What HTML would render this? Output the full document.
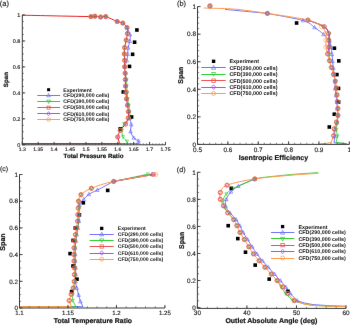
<!DOCTYPE html>
<html><head><meta charset="utf-8"><style>
html,body{margin:0;padding:0;background:#fff;width:350px;height:325px;overflow:hidden;}
svg{display:block;font-family:"Liberation Sans",sans-serif;text-rendering:geometricPrecision;}
</style></head><body>
<svg width="350" height="325" viewBox="0 0 350 325" font-family="Liberation Sans, sans-serif">
<defs><filter id="bl" x="0" y="0" width="350" height="325" filterUnits="userSpaceOnUse" color-interpolation-filters="sRGB"><feConvolveMatrix order="3" kernelMatrix="0.00163 0.03713 0.00163 0.03713 0.84497 0.03713 0.00163 0.03713 0.00163" divisor="1" edgeMode="duplicate"/></filter></defs>
<g filter="url(#bl)">
<rect width="350" height="325" fill="#fff"/>
<path d="M127.00,27.60 C127.50,28.75 129.53,32.23 130.00,34.50 C130.47,36.77 130.12,38.98 129.80,41.20 C129.48,43.42 128.45,45.63 128.10,47.80 C127.75,49.97 127.92,52.07 127.70,54.20 C127.48,56.33 127.30,58.50 126.80,60.60 C126.30,62.70 125.05,65.77 124.70,66.80" fill="none" stroke="#5555ff" stroke-width="0.8" stroke-linejoin="round"/>
<path d="M128.40,111.60 C128.60,112.72 129.12,116.13 129.60,118.30 C130.08,120.47 131.13,122.40 131.30,124.60 C131.47,126.80 130.18,129.30 130.60,131.50 C131.02,133.70 132.48,136.25 133.80,137.80 C135.12,139.35 137.72,140.30 138.50,140.80 L139.00,143.60 L22.30,143.60" fill="none" stroke="#5555ff" stroke-width="0.8" stroke-linejoin="round"/>
<path d="M125.20,73.20 C125.43,74.27 126.35,77.47 126.60,79.60 C126.85,81.73 126.60,83.87 126.70,86.00 C126.80,88.13 127.03,90.27 127.20,92.40 C127.37,94.53 127.45,96.67 127.70,98.80 C127.95,100.93 128.38,103.07 128.70,105.20 C129.02,107.33 129.48,109.47 129.60,111.60 C129.72,113.73 130.30,115.97 129.40,118.00 C128.50,120.03 125.43,121.77 124.20,123.80 C122.97,125.83 122.20,128.03 122.00,130.20 C121.80,132.37 122.17,134.95 123.00,136.80 C123.83,138.65 126.33,140.55 127.00,141.30 L128.00,143.60 L22.30,143.60" fill="none" stroke="#22cc22" stroke-width="0.8" stroke-linejoin="round"/>
<path d="M22.30,15.20 C33.73,15.43 78.80,16.43 90.90,16.60 C103.00,16.77 93.28,16.13 94.90,16.20 C96.52,16.27 98.80,16.93 100.60,17.00 C102.40,17.07 102.93,15.85 105.70,16.60 C108.47,17.35 114.35,20.42 117.20,21.50 C120.05,22.58 121.17,22.08 122.80,23.10 C124.43,24.12 126.23,25.87 127.00,27.60 C127.77,29.33 127.53,31.40 127.40,33.50 C127.27,35.60 126.67,37.85 126.20,40.20 C125.73,42.55 124.92,45.30 124.60,47.60 C124.28,49.90 124.30,51.87 124.30,54.00 C124.30,56.13 124.53,58.27 124.60,60.40 C124.67,62.53 124.60,64.67 124.70,66.80 C124.80,68.93 125.08,71.07 125.20,73.20 C125.32,75.33 125.35,77.47 125.40,79.60 C125.45,81.73 125.40,83.87 125.50,86.00 C125.60,88.13 125.83,90.27 126.00,92.40 C126.17,94.53 126.25,96.67 126.50,98.80 C126.75,100.93 127.18,103.07 127.50,105.20 C127.82,107.33 128.28,109.47 128.40,111.60 C128.52,113.73 128.67,115.93 128.20,118.00 C127.73,120.07 126.92,121.93 125.60,124.00 C124.28,126.07 121.62,128.23 120.30,130.40 C118.98,132.57 118.13,135.90 117.70,137.00 L119.50,143.60 L22.30,143.60" fill="none" stroke="#e82020" stroke-width="1.0" stroke-linejoin="round"/>
<rect x="135.10" y="28.20" width="3.60" height="3.60" fill="#000"/>
<rect x="132.80" y="40.40" width="3.60" height="3.60" fill="#000"/>
<rect x="130.80" y="52.50" width="3.60" height="3.60" fill="#000"/>
<rect x="127.70" y="64.60" width="3.60" height="3.60" fill="#000"/>
<rect x="121.50" y="90.20" width="3.60" height="3.60" fill="#000"/>
<rect x="129.80" y="115.20" width="3.60" height="3.60" fill="#000"/>
<rect x="118.40" y="127.10" width="3.60" height="3.60" fill="#000"/>
<path d="M90.90,14.68L92.64,17.99L89.16,17.99Z" fill="none" stroke="#5555ff" stroke-width="0.55"/>
<path d="M94.90,14.28L96.64,17.59L93.16,17.59Z" fill="none" stroke="#5555ff" stroke-width="0.55"/>
<path d="M100.60,15.08L102.34,18.39L98.86,18.39Z" fill="none" stroke="#5555ff" stroke-width="0.55"/>
<path d="M105.70,14.68L107.44,17.99L103.96,17.99Z" fill="none" stroke="#5555ff" stroke-width="0.55"/>
<path d="M117.20,19.58L118.94,22.89L115.46,22.89Z" fill="none" stroke="#5555ff" stroke-width="0.55"/>
<path d="M122.80,21.18L124.54,24.49L121.06,24.49Z" fill="none" stroke="#5555ff" stroke-width="0.55"/>
<path d="M127.00,25.68L128.74,28.99L125.26,28.99Z" fill="none" stroke="#5555ff" stroke-width="0.55"/>
<path d="M130.00,32.58L131.74,35.89L128.26,35.89Z" fill="none" stroke="#5555ff" stroke-width="0.55"/>
<path d="M129.80,39.28L131.54,42.59L128.06,42.59Z" fill="none" stroke="#5555ff" stroke-width="0.55"/>
<path d="M128.10,45.88L129.84,49.19L126.36,49.19Z" fill="none" stroke="#5555ff" stroke-width="0.55"/>
<path d="M127.70,52.28L129.44,55.59L125.96,55.59Z" fill="none" stroke="#5555ff" stroke-width="0.55"/>
<path d="M126.80,58.68L128.54,61.99L125.06,61.99Z" fill="none" stroke="#5555ff" stroke-width="0.55"/>
<path d="M124.70,64.88L126.44,68.19L122.96,68.19Z" fill="none" stroke="#5555ff" stroke-width="0.55"/>
<path d="M125.20,71.28L126.94,74.59L123.46,74.59Z" fill="none" stroke="#5555ff" stroke-width="0.55"/>
<path d="M125.40,77.68L127.14,80.99L123.66,80.99Z" fill="none" stroke="#5555ff" stroke-width="0.55"/>
<path d="M125.50,84.08L127.24,87.39L123.76,87.39Z" fill="none" stroke="#5555ff" stroke-width="0.55"/>
<path d="M126.00,90.48L127.74,93.79L124.26,93.79Z" fill="none" stroke="#5555ff" stroke-width="0.55"/>
<path d="M126.50,96.88L128.24,100.19L124.76,100.19Z" fill="none" stroke="#5555ff" stroke-width="0.55"/>
<path d="M127.50,103.28L129.24,106.59L125.76,106.59Z" fill="none" stroke="#5555ff" stroke-width="0.55"/>
<path d="M128.40,109.68L130.14,112.99L126.66,112.99Z" fill="none" stroke="#5555ff" stroke-width="0.55"/>
<path d="M129.60,116.38L131.34,119.69L127.86,119.69Z" fill="none" stroke="#5555ff" stroke-width="0.55"/>
<path d="M131.30,122.68L133.04,125.99L129.56,125.99Z" fill="none" stroke="#5555ff" stroke-width="0.55"/>
<path d="M130.60,129.58L132.34,132.89L128.86,132.89Z" fill="none" stroke="#5555ff" stroke-width="0.55"/>
<path d="M133.80,135.88L135.54,139.19L132.06,139.19Z" fill="none" stroke="#5555ff" stroke-width="0.55"/>
<path d="M138.50,138.88L140.24,142.19L136.76,142.19Z" fill="none" stroke="#5555ff" stroke-width="0.55"/>
<path d="M90.90,18.29L92.44,15.37L89.36,15.37Z" fill="none" stroke="#22cc22" stroke-width="0.55"/>
<path d="M94.90,17.89L96.44,14.97L93.36,14.97Z" fill="none" stroke="#22cc22" stroke-width="0.55"/>
<path d="M100.60,18.69L102.14,15.77L99.06,15.77Z" fill="none" stroke="#22cc22" stroke-width="0.55"/>
<path d="M105.70,18.29L107.24,15.37L104.16,15.37Z" fill="none" stroke="#22cc22" stroke-width="0.55"/>
<path d="M117.20,23.19L118.74,20.27L115.66,20.27Z" fill="none" stroke="#22cc22" stroke-width="0.55"/>
<path d="M122.80,24.79L124.34,21.87L121.26,21.87Z" fill="none" stroke="#22cc22" stroke-width="0.55"/>
<path d="M127.00,29.29L128.54,26.37L125.46,26.37Z" fill="none" stroke="#22cc22" stroke-width="0.55"/>
<path d="M127.40,35.19L128.94,32.27L125.86,32.27Z" fill="none" stroke="#22cc22" stroke-width="0.55"/>
<path d="M126.20,41.89L127.74,38.97L124.66,38.97Z" fill="none" stroke="#22cc22" stroke-width="0.55"/>
<path d="M124.60,49.29L126.14,46.37L123.06,46.37Z" fill="none" stroke="#22cc22" stroke-width="0.55"/>
<path d="M124.30,55.69L125.84,52.77L122.76,52.77Z" fill="none" stroke="#22cc22" stroke-width="0.55"/>
<path d="M124.60,62.09L126.14,59.17L123.06,59.17Z" fill="none" stroke="#22cc22" stroke-width="0.55"/>
<path d="M124.70,68.49L126.24,65.57L123.16,65.57Z" fill="none" stroke="#22cc22" stroke-width="0.55"/>
<path d="M125.20,74.89L126.74,71.97L123.66,71.97Z" fill="none" stroke="#22cc22" stroke-width="0.55"/>
<path d="M126.60,81.29L128.14,78.37L125.06,78.37Z" fill="none" stroke="#22cc22" stroke-width="0.55"/>
<path d="M126.70,87.69L128.24,84.77L125.16,84.77Z" fill="none" stroke="#22cc22" stroke-width="0.55"/>
<path d="M127.20,94.09L128.74,91.17L125.66,91.17Z" fill="none" stroke="#22cc22" stroke-width="0.55"/>
<path d="M127.70,100.49L129.24,97.57L126.16,97.57Z" fill="none" stroke="#22cc22" stroke-width="0.55"/>
<path d="M128.70,106.89L130.24,103.97L127.16,103.97Z" fill="none" stroke="#22cc22" stroke-width="0.55"/>
<path d="M129.60,113.29L131.14,110.37L128.06,110.37Z" fill="none" stroke="#22cc22" stroke-width="0.55"/>
<path d="M129.40,119.69L130.94,116.77L127.86,116.77Z" fill="none" stroke="#22cc22" stroke-width="0.55"/>
<path d="M124.20,125.49L125.74,122.57L122.66,122.57Z" fill="none" stroke="#22cc22" stroke-width="0.55"/>
<path d="M122.00,131.89L123.54,128.97L120.46,128.97Z" fill="none" stroke="#22cc22" stroke-width="0.55"/>
<path d="M123.00,138.49L124.54,135.57L121.46,135.57Z" fill="none" stroke="#22cc22" stroke-width="0.55"/>
<path d="M127.00,142.99L128.54,140.07L125.46,140.07Z" fill="none" stroke="#22cc22" stroke-width="0.55"/>
<path d="M90.90,14.76L92.50,16.60L90.90,18.44L89.30,16.60Z" fill="none" stroke="#9a50ff" stroke-width="0.55"/>
<path d="M94.90,14.36L96.50,16.20L94.90,18.04L93.30,16.20Z" fill="none" stroke="#9a50ff" stroke-width="0.55"/>
<path d="M100.60,15.16L102.20,17.00L100.60,18.84L99.00,17.00Z" fill="none" stroke="#9a50ff" stroke-width="0.55"/>
<path d="M105.70,14.76L107.30,16.60L105.70,18.44L104.10,16.60Z" fill="none" stroke="#9a50ff" stroke-width="0.55"/>
<path d="M117.20,19.66L118.80,21.50L117.20,23.34L115.60,21.50Z" fill="none" stroke="#9a50ff" stroke-width="0.55"/>
<path d="M122.80,21.26L124.40,23.10L122.80,24.94L121.20,23.10Z" fill="none" stroke="#9a50ff" stroke-width="0.55"/>
<path d="M127.00,25.76L128.60,27.60L127.00,29.44L125.40,27.60Z" fill="none" stroke="#9a50ff" stroke-width="0.55"/>
<path d="M127.40,31.66L129.00,33.50L127.40,35.34L125.80,33.50Z" fill="none" stroke="#9a50ff" stroke-width="0.55"/>
<path d="M126.20,38.36L127.80,40.20L126.20,42.04L124.60,40.20Z" fill="none" stroke="#9a50ff" stroke-width="0.55"/>
<path d="M124.60,45.76L126.20,47.60L124.60,49.44L123.00,47.60Z" fill="none" stroke="#9a50ff" stroke-width="0.55"/>
<path d="M124.30,52.16L125.90,54.00L124.30,55.84L122.70,54.00Z" fill="none" stroke="#9a50ff" stroke-width="0.55"/>
<path d="M124.60,58.56L126.20,60.40L124.60,62.24L123.00,60.40Z" fill="none" stroke="#9a50ff" stroke-width="0.55"/>
<path d="M124.70,64.96L126.30,66.80L124.70,68.64L123.10,66.80Z" fill="none" stroke="#9a50ff" stroke-width="0.55"/>
<path d="M125.20,71.36L126.80,73.20L125.20,75.04L123.60,73.20Z" fill="none" stroke="#9a50ff" stroke-width="0.55"/>
<path d="M125.40,77.76L127.00,79.60L125.40,81.44L123.80,79.60Z" fill="none" stroke="#9a50ff" stroke-width="0.55"/>
<path d="M125.50,84.16L127.10,86.00L125.50,87.84L123.90,86.00Z" fill="none" stroke="#9a50ff" stroke-width="0.55"/>
<path d="M126.00,90.56L127.60,92.40L126.00,94.24L124.40,92.40Z" fill="none" stroke="#9a50ff" stroke-width="0.55"/>
<path d="M126.50,96.96L128.10,98.80L126.50,100.64L124.90,98.80Z" fill="none" stroke="#9a50ff" stroke-width="0.55"/>
<path d="M127.50,103.36L129.10,105.20L127.50,107.04L125.90,105.20Z" fill="none" stroke="#9a50ff" stroke-width="0.55"/>
<path d="M128.40,109.76L130.00,111.60L128.40,113.44L126.80,111.60Z" fill="none" stroke="#9a50ff" stroke-width="0.55"/>
<path d="M128.20,116.16L129.80,118.00L128.20,119.84L126.60,118.00Z" fill="none" stroke="#9a50ff" stroke-width="0.55"/>
<path d="M125.60,122.16L127.20,124.00L125.60,125.84L124.00,124.00Z" fill="none" stroke="#9a50ff" stroke-width="0.55"/>
<path d="M120.30,128.56L121.90,130.40L120.30,132.24L118.70,130.40Z" fill="none" stroke="#9a50ff" stroke-width="0.55"/>
<path d="M117.70,135.16L119.30,137.00L117.70,138.84L116.10,137.00Z" fill="none" stroke="#9a50ff" stroke-width="0.55"/>
<circle cx="90.90" cy="16.60" r="2.21" fill="none" stroke="#ff9a50" stroke-width="0.55"/>
<circle cx="94.90" cy="16.20" r="2.21" fill="none" stroke="#ff9a50" stroke-width="0.55"/>
<circle cx="100.60" cy="17.00" r="2.21" fill="none" stroke="#ff9a50" stroke-width="0.55"/>
<circle cx="105.70" cy="16.60" r="2.21" fill="none" stroke="#ff9a50" stroke-width="0.55"/>
<circle cx="117.20" cy="21.50" r="2.21" fill="none" stroke="#ff9a50" stroke-width="0.55"/>
<circle cx="122.80" cy="23.10" r="2.21" fill="none" stroke="#ff9a50" stroke-width="0.55"/>
<circle cx="127.00" cy="27.60" r="2.21" fill="none" stroke="#ff9a50" stroke-width="0.55"/>
<circle cx="127.40" cy="33.50" r="2.21" fill="none" stroke="#ff9a50" stroke-width="0.55"/>
<circle cx="126.20" cy="40.20" r="2.21" fill="none" stroke="#ff9a50" stroke-width="0.55"/>
<circle cx="124.60" cy="47.60" r="2.21" fill="none" stroke="#ff9a50" stroke-width="0.55"/>
<circle cx="124.30" cy="54.00" r="2.21" fill="none" stroke="#ff9a50" stroke-width="0.55"/>
<circle cx="124.60" cy="60.40" r="2.21" fill="none" stroke="#ff9a50" stroke-width="0.55"/>
<circle cx="124.70" cy="66.80" r="2.21" fill="none" stroke="#ff9a50" stroke-width="0.55"/>
<circle cx="125.20" cy="73.20" r="2.21" fill="none" stroke="#ff9a50" stroke-width="0.55"/>
<circle cx="125.40" cy="79.60" r="2.21" fill="none" stroke="#ff9a50" stroke-width="0.55"/>
<circle cx="125.50" cy="86.00" r="2.21" fill="none" stroke="#ff9a50" stroke-width="0.55"/>
<circle cx="126.00" cy="92.40" r="2.21" fill="none" stroke="#ff9a50" stroke-width="0.55"/>
<circle cx="126.50" cy="98.80" r="2.21" fill="none" stroke="#ff9a50" stroke-width="0.55"/>
<circle cx="127.50" cy="105.20" r="2.21" fill="none" stroke="#ff9a50" stroke-width="0.55"/>
<circle cx="128.40" cy="111.60" r="2.21" fill="none" stroke="#ff9a50" stroke-width="0.55"/>
<circle cx="128.20" cy="118.00" r="2.21" fill="none" stroke="#ff9a50" stroke-width="0.55"/>
<circle cx="125.60" cy="124.00" r="2.21" fill="none" stroke="#ff9a50" stroke-width="0.55"/>
<circle cx="120.30" cy="130.40" r="2.21" fill="none" stroke="#ff9a50" stroke-width="0.55"/>
<circle cx="117.70" cy="137.00" r="2.21" fill="none" stroke="#ff9a50" stroke-width="0.55"/>
<circle cx="90.90" cy="16.60" r="2.05" fill="none" stroke="#ec4a30" stroke-width="0.65"/>
<circle cx="94.90" cy="16.20" r="2.05" fill="none" stroke="#ec4a30" stroke-width="0.65"/>
<circle cx="100.60" cy="17.00" r="2.05" fill="none" stroke="#ec4a30" stroke-width="0.65"/>
<circle cx="105.70" cy="16.60" r="2.05" fill="none" stroke="#ec4a30" stroke-width="0.65"/>
<circle cx="117.20" cy="21.50" r="2.05" fill="none" stroke="#ec4a30" stroke-width="0.65"/>
<circle cx="122.80" cy="23.10" r="2.05" fill="none" stroke="#ec4a30" stroke-width="0.65"/>
<circle cx="127.00" cy="27.60" r="2.05" fill="none" stroke="#ec4a30" stroke-width="0.65"/>
<circle cx="127.40" cy="33.50" r="2.05" fill="none" stroke="#ec4a30" stroke-width="0.65"/>
<circle cx="126.20" cy="40.20" r="2.05" fill="none" stroke="#ec4a30" stroke-width="0.65"/>
<circle cx="124.60" cy="47.60" r="2.05" fill="none" stroke="#ec4a30" stroke-width="0.65"/>
<circle cx="124.30" cy="54.00" r="2.05" fill="none" stroke="#ec4a30" stroke-width="0.65"/>
<circle cx="124.60" cy="60.40" r="2.05" fill="none" stroke="#ec4a30" stroke-width="0.65"/>
<circle cx="124.70" cy="66.80" r="2.05" fill="none" stroke="#ec4a30" stroke-width="0.65"/>
<circle cx="125.20" cy="73.20" r="2.05" fill="none" stroke="#ec4a30" stroke-width="0.65"/>
<circle cx="125.40" cy="79.60" r="2.05" fill="none" stroke="#ec4a30" stroke-width="0.65"/>
<circle cx="125.50" cy="86.00" r="2.05" fill="none" stroke="#ec4a30" stroke-width="0.65"/>
<circle cx="126.00" cy="92.40" r="2.05" fill="none" stroke="#ec4a30" stroke-width="0.65"/>
<circle cx="126.50" cy="98.80" r="2.05" fill="none" stroke="#ec4a30" stroke-width="0.65"/>
<circle cx="127.50" cy="105.20" r="2.05" fill="none" stroke="#ec4a30" stroke-width="0.65"/>
<circle cx="128.40" cy="111.60" r="2.05" fill="none" stroke="#ec4a30" stroke-width="0.65"/>
<circle cx="128.20" cy="118.00" r="2.05" fill="none" stroke="#ec4a30" stroke-width="0.65"/>
<circle cx="125.60" cy="124.00" r="2.05" fill="none" stroke="#ec4a30" stroke-width="0.65"/>
<circle cx="120.30" cy="130.40" r="2.05" fill="none" stroke="#ec4a30" stroke-width="0.65"/>
<circle cx="117.70" cy="137.00" r="2.05" fill="none" stroke="#ec4a30" stroke-width="0.65"/>
<path d="M225.00,9.40 L267.40,13.40" fill="none" stroke="#5555ff" stroke-width="0.8" stroke-linejoin="round"/>
<path d="M267.40,13.40 C273.33,14.58 295.15,18.17 303.00,20.50 C310.85,22.83 311.08,25.10 314.50,27.40 C317.92,29.70 321.00,32.07 323.50,34.30 C326.00,36.53 328.22,38.62 329.50,40.80 C330.78,42.98 330.78,45.15 331.20,47.40 C331.62,49.65 331.77,52.00 332.00,54.30 C332.23,56.60 332.37,58.92 332.60,61.20 C332.83,63.48 333.13,65.73 333.40,68.00 C333.67,70.27 333.93,72.53 334.20,74.80 C334.47,77.07 334.87,79.32 335.00,81.60 C335.13,83.88 334.83,86.22 335.00,88.50 C335.17,90.78 335.70,93.02 336.00,95.30 C336.30,97.58 336.57,99.92 336.80,102.20 C337.03,104.48 337.23,106.72 337.40,109.00 C337.57,111.28 337.87,113.62 337.80,115.90 C337.73,118.18 337.47,120.42 337.00,122.70 C336.53,124.98 335.37,127.32 335.00,129.60 C334.63,131.88 334.83,135.27 334.80,136.40 L334.00,142.80 L346.00,143.60" fill="none" stroke="#5555ff" stroke-width="0.8" stroke-linejoin="round"/>
<path d="M307.90,20.10 C310.45,21.18 319.65,24.38 323.20,26.60 C326.75,28.82 328.17,31.15 329.20,33.42 C330.23,35.69 329.37,37.97 329.40,40.24 C329.43,42.51 329.40,44.79 329.40,47.06 C329.40,49.33 329.38,51.61 329.40,53.88 C329.42,56.15 329.48,59.56 329.50,60.70" fill="none" stroke="#22cc22" stroke-width="0.8" stroke-linejoin="round"/>
<path d="M337.90,115.26 C337.82,116.50 337.65,120.31 337.40,122.70 C337.15,125.09 336.37,127.38 336.40,129.60 C336.43,131.82 337.40,134.93 337.60,136.00 L336.00,142.60 L347.00,143.60" fill="none" stroke="#22cc22" stroke-width="0.8" stroke-linejoin="round"/>
<path d="M307.90,20.10 C310.65,21.18 320.95,24.38 324.40,26.60 C327.85,28.82 327.87,31.15 328.60,33.42 C329.33,35.69 328.77,37.97 328.80,40.24 C328.83,42.51 329.00,44.79 328.80,47.06 C328.60,49.33 327.80,52.74 327.60,53.88" fill="none" stroke="#e82020" stroke-width="0.8" stroke-linejoin="round"/>
<path d="M307.90,20.10 C310.65,21.18 320.95,24.38 324.40,26.60 C327.85,28.82 327.87,31.15 328.60,33.42 C329.33,35.69 328.77,37.97 328.80,40.24 C328.83,42.51 329.00,44.79 328.80,47.06 C328.60,49.33 327.80,52.74 327.60,53.88" fill="none" stroke="#9a50ff" stroke-width="0.8" stroke-linejoin="round"/>
<path d="M203.60,8.00 C204.65,8.03 204.67,8.00 209.90,8.20 C215.13,8.40 225.42,8.33 235.00,9.20 C244.58,10.07 255.25,11.58 267.40,13.40 C279.55,15.22 298.87,17.90 307.90,20.10 C316.93,22.30 318.62,24.38 321.60,26.60 C324.58,28.82 325.07,31.15 325.80,33.42 C326.53,35.69 325.97,37.97 326.00,40.24 C326.03,42.51 325.73,44.79 326.00,47.06 C326.27,49.33 327.02,51.61 327.60,53.88 C328.18,56.15 328.87,58.43 329.50,60.70 C330.13,62.97 330.73,65.25 331.40,67.52 C332.07,69.79 332.85,72.07 333.50,74.34 C334.15,76.61 334.82,78.89 335.30,81.16 C335.78,83.43 336.12,85.71 336.40,87.98 C336.68,90.25 336.83,92.53 337.00,94.80 C337.17,97.07 337.25,99.35 337.40,101.62 C337.55,103.89 337.82,106.17 337.90,108.44 C337.98,110.71 338.15,112.99 337.90,115.26 C337.65,117.53 337.02,119.81 336.40,122.08 C335.78,124.35 334.67,126.63 334.20,128.90 C333.73,131.17 333.70,134.58 333.60,135.72 L331.00,142.50 L326.00,143.40 L320.40,143.60" fill="none" stroke="#ff9a4a" stroke-width="1.0" stroke-linejoin="round"/>
<rect x="294.80" y="21.20" width="3.60" height="3.60" fill="#000"/>
<rect x="332.60" y="46.40" width="3.60" height="3.60" fill="#000"/>
<rect x="337.00" y="59.10" width="3.60" height="3.60" fill="#000"/>
<rect x="335.10" y="72.80" width="3.60" height="3.60" fill="#000"/>
<rect x="336.70" y="86.60" width="3.60" height="3.60" fill="#000"/>
<rect x="336.80" y="100.20" width="3.60" height="3.60" fill="#000"/>
<rect x="332.50" y="112.40" width="3.60" height="3.60" fill="#000"/>
<rect x="327.50" y="125.20" width="3.60" height="3.60" fill="#000"/>
<path d="M267.40,11.48L269.14,14.79L265.66,14.79Z" fill="none" stroke="#5555ff" stroke-width="0.55"/>
<path d="M303.00,18.58L304.74,21.89L301.26,21.89Z" fill="none" stroke="#5555ff" stroke-width="0.55"/>
<path d="M314.50,25.48L316.24,28.79L312.76,28.79Z" fill="none" stroke="#5555ff" stroke-width="0.55"/>
<path d="M323.50,32.38L325.24,35.69L321.76,35.69Z" fill="none" stroke="#5555ff" stroke-width="0.55"/>
<path d="M329.50,38.88L331.24,42.19L327.76,42.19Z" fill="none" stroke="#5555ff" stroke-width="0.55"/>
<path d="M331.20,45.48L332.94,48.79L329.46,48.79Z" fill="none" stroke="#5555ff" stroke-width="0.55"/>
<path d="M332.00,52.38L333.74,55.69L330.26,55.69Z" fill="none" stroke="#5555ff" stroke-width="0.55"/>
<path d="M332.60,59.28L334.34,62.59L330.86,62.59Z" fill="none" stroke="#5555ff" stroke-width="0.55"/>
<path d="M333.40,66.08L335.14,69.39L331.66,69.39Z" fill="none" stroke="#5555ff" stroke-width="0.55"/>
<path d="M334.20,72.88L335.94,76.19L332.46,76.19Z" fill="none" stroke="#5555ff" stroke-width="0.55"/>
<path d="M335.00,79.68L336.74,82.99L333.26,82.99Z" fill="none" stroke="#5555ff" stroke-width="0.55"/>
<path d="M335.00,86.58L336.74,89.89L333.26,89.89Z" fill="none" stroke="#5555ff" stroke-width="0.55"/>
<path d="M336.00,93.38L337.74,96.69L334.26,96.69Z" fill="none" stroke="#5555ff" stroke-width="0.55"/>
<path d="M336.80,100.28L338.54,103.59L335.06,103.59Z" fill="none" stroke="#5555ff" stroke-width="0.55"/>
<path d="M337.40,107.08L339.14,110.39L335.66,110.39Z" fill="none" stroke="#5555ff" stroke-width="0.55"/>
<path d="M337.80,113.98L339.54,117.29L336.06,117.29Z" fill="none" stroke="#5555ff" stroke-width="0.55"/>
<path d="M337.00,120.78L338.74,124.09L335.26,124.09Z" fill="none" stroke="#5555ff" stroke-width="0.55"/>
<path d="M335.00,127.68L336.74,130.99L333.26,130.99Z" fill="none" stroke="#5555ff" stroke-width="0.55"/>
<path d="M334.80,134.48L336.54,137.79L333.06,137.79Z" fill="none" stroke="#5555ff" stroke-width="0.55"/>
<path d="M267.40,15.09L268.94,12.17L265.86,12.17Z" fill="none" stroke="#22cc22" stroke-width="0.55"/>
<path d="M307.90,21.79L309.44,18.87L306.36,18.87Z" fill="none" stroke="#22cc22" stroke-width="0.55"/>
<path d="M323.20,28.29L324.74,25.37L321.66,25.37Z" fill="none" stroke="#22cc22" stroke-width="0.55"/>
<path d="M329.20,35.11L330.74,32.19L327.66,32.19Z" fill="none" stroke="#22cc22" stroke-width="0.55"/>
<path d="M329.40,41.93L330.94,39.01L327.86,39.01Z" fill="none" stroke="#22cc22" stroke-width="0.55"/>
<path d="M329.40,48.75L330.94,45.83L327.86,45.83Z" fill="none" stroke="#22cc22" stroke-width="0.55"/>
<path d="M329.40,55.57L330.94,52.65L327.86,52.65Z" fill="none" stroke="#22cc22" stroke-width="0.55"/>
<path d="M329.50,62.39L331.04,59.47L327.96,59.47Z" fill="none" stroke="#22cc22" stroke-width="0.55"/>
<path d="M331.40,69.21L332.94,66.29L329.86,66.29Z" fill="none" stroke="#22cc22" stroke-width="0.55"/>
<path d="M333.50,76.03L335.04,73.11L331.96,73.11Z" fill="none" stroke="#22cc22" stroke-width="0.55"/>
<path d="M335.30,82.85L336.84,79.93L333.76,79.93Z" fill="none" stroke="#22cc22" stroke-width="0.55"/>
<path d="M336.40,89.67L337.94,86.75L334.86,86.75Z" fill="none" stroke="#22cc22" stroke-width="0.55"/>
<path d="M337.00,96.49L338.54,93.57L335.46,93.57Z" fill="none" stroke="#22cc22" stroke-width="0.55"/>
<path d="M337.40,103.31L338.94,100.39L335.86,100.39Z" fill="none" stroke="#22cc22" stroke-width="0.55"/>
<path d="M337.90,110.13L339.44,107.21L336.36,107.21Z" fill="none" stroke="#22cc22" stroke-width="0.55"/>
<path d="M337.90,116.95L339.44,114.03L336.36,114.03Z" fill="none" stroke="#22cc22" stroke-width="0.55"/>
<path d="M337.40,124.39L338.94,121.47L335.86,121.47Z" fill="none" stroke="#22cc22" stroke-width="0.55"/>
<path d="M336.40,131.29L337.94,128.37L334.86,128.37Z" fill="none" stroke="#22cc22" stroke-width="0.55"/>
<path d="M337.60,137.69L339.14,134.77L336.06,134.77Z" fill="none" stroke="#22cc22" stroke-width="0.55"/>
<path d="M267.40,11.56L269.00,13.40L267.40,15.24L265.80,13.40Z" fill="none" stroke="#9a50ff" stroke-width="0.55"/>
<path d="M307.90,18.26L309.50,20.10L307.90,21.94L306.30,20.10Z" fill="none" stroke="#9a50ff" stroke-width="0.55"/>
<path d="M324.40,24.76L326.00,26.60L324.40,28.44L322.80,26.60Z" fill="none" stroke="#9a50ff" stroke-width="0.55"/>
<path d="M328.60,31.58L330.20,33.42L328.60,35.26L327.00,33.42Z" fill="none" stroke="#9a50ff" stroke-width="0.55"/>
<path d="M328.80,38.40L330.40,40.24L328.80,42.08L327.20,40.24Z" fill="none" stroke="#9a50ff" stroke-width="0.55"/>
<path d="M328.80,45.22L330.40,47.06L328.80,48.90L327.20,47.06Z" fill="none" stroke="#9a50ff" stroke-width="0.55"/>
<path d="M327.60,52.04L329.20,53.88L327.60,55.72L326.00,53.88Z" fill="none" stroke="#9a50ff" stroke-width="0.55"/>
<path d="M329.50,58.86L331.10,60.70L329.50,62.54L327.90,60.70Z" fill="none" stroke="#9a50ff" stroke-width="0.55"/>
<path d="M331.40,65.68L333.00,67.52L331.40,69.36L329.80,67.52Z" fill="none" stroke="#9a50ff" stroke-width="0.55"/>
<path d="M333.50,72.50L335.10,74.34L333.50,76.18L331.90,74.34Z" fill="none" stroke="#9a50ff" stroke-width="0.55"/>
<path d="M335.30,79.32L336.90,81.16L335.30,83.00L333.70,81.16Z" fill="none" stroke="#9a50ff" stroke-width="0.55"/>
<path d="M336.40,86.14L338.00,87.98L336.40,89.82L334.80,87.98Z" fill="none" stroke="#9a50ff" stroke-width="0.55"/>
<path d="M337.00,92.96L338.60,94.80L337.00,96.64L335.40,94.80Z" fill="none" stroke="#9a50ff" stroke-width="0.55"/>
<path d="M337.40,99.78L339.00,101.62L337.40,103.46L335.80,101.62Z" fill="none" stroke="#9a50ff" stroke-width="0.55"/>
<path d="M337.90,106.60L339.50,108.44L337.90,110.28L336.30,108.44Z" fill="none" stroke="#9a50ff" stroke-width="0.55"/>
<path d="M337.90,113.42L339.50,115.26L337.90,117.10L336.30,115.26Z" fill="none" stroke="#9a50ff" stroke-width="0.55"/>
<path d="M336.40,120.24L338.00,122.08L336.40,123.92L334.80,122.08Z" fill="none" stroke="#9a50ff" stroke-width="0.55"/>
<path d="M334.20,127.06L335.80,128.90L334.20,130.74L332.60,128.90Z" fill="none" stroke="#9a50ff" stroke-width="0.55"/>
<path d="M333.60,133.88L335.20,135.72L333.60,137.56L332.00,135.72Z" fill="none" stroke="#9a50ff" stroke-width="0.55"/>
<circle cx="267.40" cy="13.40" r="2.21" fill="none" stroke="#ff9a50" stroke-width="0.55"/>
<circle cx="307.90" cy="20.10" r="2.21" fill="none" stroke="#ff9a50" stroke-width="0.55"/>
<circle cx="321.60" cy="26.60" r="2.21" fill="none" stroke="#ff9a50" stroke-width="0.55"/>
<circle cx="325.80" cy="33.42" r="2.21" fill="none" stroke="#ff9a50" stroke-width="0.55"/>
<circle cx="326.00" cy="40.24" r="2.21" fill="none" stroke="#ff9a50" stroke-width="0.55"/>
<circle cx="326.00" cy="47.06" r="2.21" fill="none" stroke="#ff9a50" stroke-width="0.55"/>
<circle cx="327.60" cy="53.88" r="2.21" fill="none" stroke="#ff9a50" stroke-width="0.55"/>
<circle cx="329.50" cy="60.70" r="2.21" fill="none" stroke="#ff9a50" stroke-width="0.55"/>
<circle cx="331.40" cy="67.52" r="2.21" fill="none" stroke="#ff9a50" stroke-width="0.55"/>
<circle cx="333.50" cy="74.34" r="2.21" fill="none" stroke="#ff9a50" stroke-width="0.55"/>
<circle cx="335.30" cy="81.16" r="2.21" fill="none" stroke="#ff9a50" stroke-width="0.55"/>
<circle cx="336.40" cy="87.98" r="2.21" fill="none" stroke="#ff9a50" stroke-width="0.55"/>
<circle cx="337.00" cy="94.80" r="2.21" fill="none" stroke="#ff9a50" stroke-width="0.55"/>
<circle cx="337.40" cy="101.62" r="2.21" fill="none" stroke="#ff9a50" stroke-width="0.55"/>
<circle cx="337.90" cy="108.44" r="2.21" fill="none" stroke="#ff9a50" stroke-width="0.55"/>
<circle cx="337.90" cy="115.26" r="2.21" fill="none" stroke="#ff9a50" stroke-width="0.55"/>
<circle cx="336.40" cy="122.08" r="2.21" fill="none" stroke="#ff9a50" stroke-width="0.55"/>
<circle cx="334.20" cy="128.90" r="2.21" fill="none" stroke="#ff9a50" stroke-width="0.55"/>
<circle cx="333.60" cy="135.72" r="2.21" fill="none" stroke="#ff9a50" stroke-width="0.55"/>
<circle cx="267.40" cy="13.40" r="2.05" fill="none" stroke="#ec4a30" stroke-width="0.65"/>
<circle cx="307.90" cy="20.10" r="2.05" fill="none" stroke="#ec4a30" stroke-width="0.65"/>
<circle cx="324.40" cy="26.60" r="2.05" fill="none" stroke="#ec4a30" stroke-width="0.65"/>
<circle cx="328.60" cy="33.42" r="2.05" fill="none" stroke="#ec4a30" stroke-width="0.65"/>
<circle cx="328.80" cy="40.24" r="2.05" fill="none" stroke="#ec4a30" stroke-width="0.65"/>
<circle cx="328.80" cy="47.06" r="2.05" fill="none" stroke="#ec4a30" stroke-width="0.65"/>
<circle cx="327.60" cy="53.88" r="2.05" fill="none" stroke="#ec4a30" stroke-width="0.65"/>
<circle cx="329.50" cy="60.70" r="2.05" fill="none" stroke="#ec4a30" stroke-width="0.65"/>
<circle cx="331.40" cy="67.52" r="2.05" fill="none" stroke="#ec4a30" stroke-width="0.65"/>
<circle cx="333.50" cy="74.34" r="2.05" fill="none" stroke="#ec4a30" stroke-width="0.65"/>
<circle cx="335.30" cy="81.16" r="2.05" fill="none" stroke="#ec4a30" stroke-width="0.65"/>
<circle cx="336.40" cy="87.98" r="2.05" fill="none" stroke="#ec4a30" stroke-width="0.65"/>
<circle cx="337.00" cy="94.80" r="2.05" fill="none" stroke="#ec4a30" stroke-width="0.65"/>
<circle cx="337.40" cy="101.62" r="2.05" fill="none" stroke="#ec4a30" stroke-width="0.65"/>
<circle cx="337.90" cy="108.44" r="2.05" fill="none" stroke="#ec4a30" stroke-width="0.65"/>
<circle cx="337.90" cy="115.26" r="2.05" fill="none" stroke="#ec4a30" stroke-width="0.65"/>
<circle cx="336.40" cy="122.08" r="2.05" fill="none" stroke="#ec4a30" stroke-width="0.65"/>
<circle cx="334.20" cy="128.90" r="2.05" fill="none" stroke="#ec4a30" stroke-width="0.65"/>
<circle cx="333.60" cy="135.72" r="2.05" fill="none" stroke="#ec4a30" stroke-width="0.65"/>
<path d="M210.50,3.78L212.24,7.09L208.76,7.09Z" fill="none" stroke="#5555ff" stroke-width="0.55"/>
<path d="M209.50,7.89L211.04,4.97L207.96,4.97Z" fill="none" stroke="#22cc22" stroke-width="0.55"/>
<path d="M209.90,4.06L211.50,5.90L209.90,7.74L208.30,5.90Z" fill="none" stroke="#9a50ff" stroke-width="0.55"/>
<circle cx="210.20" cy="5.60" r="2.21" fill="none" stroke="#ff9a50" stroke-width="0.55"/>
<circle cx="209.70" cy="6.10" r="2.05" fill="none" stroke="#ec4a30" stroke-width="0.65"/>
<path d="M152.20,174.40 L113.70,181.40" fill="none" stroke="#5555ff" stroke-width="0.8" stroke-linejoin="round"/>
<path d="M113.70,181.40 C110.98,182.83 101.53,187.85 97.40,190.00 C93.27,192.15 91.18,192.73 88.90,194.30 C86.62,195.87 85.27,197.62 83.70,199.40 C82.13,201.18 80.27,202.45 79.50,205.00 C78.73,207.55 79.20,212.00 79.10,214.70 C79.00,217.40 79.10,218.98 78.90,221.20 C78.70,223.42 78.27,225.77 77.90,228.00 C77.53,230.23 77.03,232.43 76.70,234.60 C76.37,236.77 76.13,238.78 75.90,241.00 C75.67,243.22 75.43,245.65 75.30,247.90 C75.17,250.15 75.10,252.32 75.10,254.50 C75.10,256.68 75.20,258.78 75.30,261.00 C75.40,263.22 75.63,265.53 75.70,267.80 C75.77,270.07 75.73,272.32 75.70,274.60 C75.67,276.88 75.32,279.27 75.50,281.50 C75.68,283.73 76.28,285.75 76.80,288.00 C77.32,290.25 78.00,292.75 78.60,295.00 C79.20,297.25 80.10,300.42 80.40,301.50 L83.00,306.60 L19.60,306.60" fill="none" stroke="#5555ff" stroke-width="0.8" stroke-linejoin="round"/>
<path d="M147.90,174.10 L113.70,181.40" fill="none" stroke="#22cc22" stroke-width="0.8" stroke-linejoin="round"/>
<path d="M78.50,201.20 C78.62,202.33 79.15,205.75 79.20,208.00 C79.25,210.25 78.90,212.50 78.80,214.70 C78.70,216.90 78.80,218.98 78.60,221.20 C78.40,223.42 77.97,225.77 77.60,228.00 C77.23,230.23 76.73,232.43 76.40,234.60 C76.07,236.77 75.83,238.78 75.60,241.00 C75.37,243.22 75.13,245.65 75.00,247.90 C74.87,250.15 74.80,252.32 74.80,254.50 C74.80,256.68 74.90,258.78 75.00,261.00 C75.10,263.22 75.33,265.53 75.40,267.80 C75.47,270.07 75.43,272.32 75.40,274.60 C75.37,276.88 75.40,279.27 75.20,281.50 C75.00,283.73 74.60,285.87 74.20,288.00 C73.80,290.13 73.07,292.20 72.80,294.30 C72.53,296.40 72.63,299.55 72.60,300.60 L76.00,306.60 L19.60,306.60" fill="none" stroke="#22cc22" stroke-width="0.8" stroke-linejoin="round"/>
<path d="M153.00,174.40 L113.70,181.40" fill="none" stroke="#e82020" stroke-width="0.8" stroke-linejoin="round"/>
<path d="M154.60,174.40 L113.70,181.40" fill="none" stroke="#9a50ff" stroke-width="0.8" stroke-linejoin="round"/>
<path d="M155.70,174.40 C148.70,175.57 124.42,179.08 113.70,181.40 C102.98,183.72 96.85,186.08 91.40,188.30 C85.95,190.52 83.15,192.55 81.00,194.70 C78.85,196.85 78.97,198.98 78.50,201.20 C78.03,203.42 78.32,205.75 78.20,208.00 C78.08,210.25 77.90,212.50 77.80,214.70 C77.70,216.90 77.80,218.98 77.60,221.20 C77.40,223.42 76.97,225.77 76.60,228.00 C76.23,230.23 75.73,232.43 75.40,234.60 C75.07,236.77 74.83,238.78 74.60,241.00 C74.37,243.22 74.13,245.65 74.00,247.90 C73.87,250.15 73.80,252.32 73.80,254.50 C73.80,256.68 73.90,258.78 74.00,261.00 C74.10,263.22 74.33,265.53 74.40,267.80 C74.47,270.07 74.43,272.32 74.40,274.60 C74.37,276.88 74.40,279.27 74.20,281.50 C74.00,283.73 73.70,285.87 73.20,288.00 C72.70,290.13 71.87,292.20 71.20,294.30 C70.53,296.40 69.53,299.55 69.20,300.60 L71.50,306.60 L19.60,306.60" fill="none" stroke="#ff9a4a" stroke-width="1.0" stroke-linejoin="round"/>
<rect x="105.90" y="188.60" width="3.60" height="3.60" fill="#000"/>
<rect x="81.50" y="201.00" width="3.60" height="3.60" fill="#000"/>
<rect x="77.60" y="213.00" width="3.60" height="3.60" fill="#000"/>
<rect x="73.50" y="226.20" width="3.60" height="3.60" fill="#000"/>
<rect x="71.30" y="238.60" width="3.60" height="3.60" fill="#000"/>
<rect x="68.30" y="251.80" width="3.60" height="3.60" fill="#000"/>
<rect x="71.20" y="264.20" width="3.60" height="3.60" fill="#000"/>
<rect x="75.20" y="277.40" width="3.60" height="3.60" fill="#000"/>
<rect x="69.80" y="289.80" width="3.60" height="3.60" fill="#000"/>
<path d="M152.20,172.48L153.94,175.79L150.46,175.79Z" fill="none" stroke="#5555ff" stroke-width="0.55"/>
<path d="M113.70,179.48L115.44,182.79L111.96,182.79Z" fill="none" stroke="#5555ff" stroke-width="0.55"/>
<path d="M97.40,188.08L99.14,191.39L95.66,191.39Z" fill="none" stroke="#5555ff" stroke-width="0.55"/>
<path d="M88.90,192.38L90.64,195.69L87.16,195.69Z" fill="none" stroke="#5555ff" stroke-width="0.55"/>
<path d="M83.70,197.48L85.44,200.79L81.96,200.79Z" fill="none" stroke="#5555ff" stroke-width="0.55"/>
<path d="M79.50,203.08L81.24,206.39L77.76,206.39Z" fill="none" stroke="#5555ff" stroke-width="0.55"/>
<path d="M79.10,212.78L80.84,216.09L77.36,216.09Z" fill="none" stroke="#5555ff" stroke-width="0.55"/>
<path d="M78.90,219.28L80.64,222.59L77.16,222.59Z" fill="none" stroke="#5555ff" stroke-width="0.55"/>
<path d="M77.90,226.08L79.64,229.39L76.16,229.39Z" fill="none" stroke="#5555ff" stroke-width="0.55"/>
<path d="M76.70,232.68L78.44,235.99L74.96,235.99Z" fill="none" stroke="#5555ff" stroke-width="0.55"/>
<path d="M75.90,239.08L77.64,242.39L74.16,242.39Z" fill="none" stroke="#5555ff" stroke-width="0.55"/>
<path d="M75.30,245.98L77.04,249.29L73.56,249.29Z" fill="none" stroke="#5555ff" stroke-width="0.55"/>
<path d="M75.10,252.58L76.84,255.89L73.36,255.89Z" fill="none" stroke="#5555ff" stroke-width="0.55"/>
<path d="M75.30,259.08L77.04,262.39L73.56,262.39Z" fill="none" stroke="#5555ff" stroke-width="0.55"/>
<path d="M75.70,265.88L77.44,269.19L73.96,269.19Z" fill="none" stroke="#5555ff" stroke-width="0.55"/>
<path d="M75.70,272.68L77.44,275.99L73.96,275.99Z" fill="none" stroke="#5555ff" stroke-width="0.55"/>
<path d="M75.50,279.58L77.24,282.89L73.76,282.89Z" fill="none" stroke="#5555ff" stroke-width="0.55"/>
<path d="M76.80,286.08L78.54,289.39L75.06,289.39Z" fill="none" stroke="#5555ff" stroke-width="0.55"/>
<path d="M78.60,293.08L80.34,296.39L76.86,296.39Z" fill="none" stroke="#5555ff" stroke-width="0.55"/>
<path d="M80.40,299.58L82.14,302.89L78.66,302.89Z" fill="none" stroke="#5555ff" stroke-width="0.55"/>
<path d="M147.90,175.79L149.44,172.87L146.36,172.87Z" fill="none" stroke="#22cc22" stroke-width="0.55"/>
<path d="M113.70,183.09L115.24,180.17L112.16,180.17Z" fill="none" stroke="#22cc22" stroke-width="0.55"/>
<path d="M91.40,189.99L92.94,187.07L89.86,187.07Z" fill="none" stroke="#22cc22" stroke-width="0.55"/>
<path d="M81.00,196.39L82.54,193.47L79.46,193.47Z" fill="none" stroke="#22cc22" stroke-width="0.55"/>
<path d="M78.50,202.89L80.04,199.97L76.96,199.97Z" fill="none" stroke="#22cc22" stroke-width="0.55"/>
<path d="M79.20,209.69L80.74,206.77L77.66,206.77Z" fill="none" stroke="#22cc22" stroke-width="0.55"/>
<path d="M78.80,216.39L80.34,213.47L77.26,213.47Z" fill="none" stroke="#22cc22" stroke-width="0.55"/>
<path d="M78.60,222.89L80.14,219.97L77.06,219.97Z" fill="none" stroke="#22cc22" stroke-width="0.55"/>
<path d="M77.60,229.69L79.14,226.77L76.06,226.77Z" fill="none" stroke="#22cc22" stroke-width="0.55"/>
<path d="M76.40,236.29L77.94,233.37L74.86,233.37Z" fill="none" stroke="#22cc22" stroke-width="0.55"/>
<path d="M75.60,242.69L77.14,239.77L74.06,239.77Z" fill="none" stroke="#22cc22" stroke-width="0.55"/>
<path d="M75.00,249.59L76.54,246.67L73.46,246.67Z" fill="none" stroke="#22cc22" stroke-width="0.55"/>
<path d="M74.80,256.19L76.34,253.27L73.26,253.27Z" fill="none" stroke="#22cc22" stroke-width="0.55"/>
<path d="M75.00,262.69L76.54,259.77L73.46,259.77Z" fill="none" stroke="#22cc22" stroke-width="0.55"/>
<path d="M75.40,269.49L76.94,266.57L73.86,266.57Z" fill="none" stroke="#22cc22" stroke-width="0.55"/>
<path d="M75.40,276.29L76.94,273.37L73.86,273.37Z" fill="none" stroke="#22cc22" stroke-width="0.55"/>
<path d="M75.20,283.19L76.74,280.27L73.66,280.27Z" fill="none" stroke="#22cc22" stroke-width="0.55"/>
<path d="M74.20,289.69L75.74,286.77L72.66,286.77Z" fill="none" stroke="#22cc22" stroke-width="0.55"/>
<path d="M72.80,295.99L74.34,293.07L71.26,293.07Z" fill="none" stroke="#22cc22" stroke-width="0.55"/>
<path d="M72.60,302.29L74.14,299.37L71.06,299.37Z" fill="none" stroke="#22cc22" stroke-width="0.55"/>
<path d="M154.60,172.56L156.20,174.40L154.60,176.24L153.00,174.40Z" fill="none" stroke="#9a50ff" stroke-width="0.55"/>
<path d="M113.70,179.56L115.30,181.40L113.70,183.24L112.10,181.40Z" fill="none" stroke="#9a50ff" stroke-width="0.55"/>
<path d="M91.40,186.46L93.00,188.30L91.40,190.14L89.80,188.30Z" fill="none" stroke="#9a50ff" stroke-width="0.55"/>
<path d="M81.00,192.86L82.60,194.70L81.00,196.54L79.40,194.70Z" fill="none" stroke="#9a50ff" stroke-width="0.55"/>
<path d="M78.50,199.36L80.10,201.20L78.50,203.04L76.90,201.20Z" fill="none" stroke="#9a50ff" stroke-width="0.55"/>
<path d="M78.20,206.16L79.80,208.00L78.20,209.84L76.60,208.00Z" fill="none" stroke="#9a50ff" stroke-width="0.55"/>
<path d="M77.80,212.86L79.40,214.70L77.80,216.54L76.20,214.70Z" fill="none" stroke="#9a50ff" stroke-width="0.55"/>
<path d="M77.60,219.36L79.20,221.20L77.60,223.04L76.00,221.20Z" fill="none" stroke="#9a50ff" stroke-width="0.55"/>
<path d="M76.60,226.16L78.20,228.00L76.60,229.84L75.00,228.00Z" fill="none" stroke="#9a50ff" stroke-width="0.55"/>
<path d="M75.40,232.76L77.00,234.60L75.40,236.44L73.80,234.60Z" fill="none" stroke="#9a50ff" stroke-width="0.55"/>
<path d="M74.60,239.16L76.20,241.00L74.60,242.84L73.00,241.00Z" fill="none" stroke="#9a50ff" stroke-width="0.55"/>
<path d="M74.00,246.06L75.60,247.90L74.00,249.74L72.40,247.90Z" fill="none" stroke="#9a50ff" stroke-width="0.55"/>
<path d="M73.80,252.66L75.40,254.50L73.80,256.34L72.20,254.50Z" fill="none" stroke="#9a50ff" stroke-width="0.55"/>
<path d="M74.00,259.16L75.60,261.00L74.00,262.84L72.40,261.00Z" fill="none" stroke="#9a50ff" stroke-width="0.55"/>
<path d="M74.40,265.96L76.00,267.80L74.40,269.64L72.80,267.80Z" fill="none" stroke="#9a50ff" stroke-width="0.55"/>
<path d="M74.40,272.76L76.00,274.60L74.40,276.44L72.80,274.60Z" fill="none" stroke="#9a50ff" stroke-width="0.55"/>
<path d="M74.20,279.66L75.80,281.50L74.20,283.34L72.60,281.50Z" fill="none" stroke="#9a50ff" stroke-width="0.55"/>
<path d="M73.20,286.16L74.80,288.00L73.20,289.84L71.60,288.00Z" fill="none" stroke="#9a50ff" stroke-width="0.55"/>
<path d="M71.20,292.46L72.80,294.30L71.20,296.14L69.60,294.30Z" fill="none" stroke="#9a50ff" stroke-width="0.55"/>
<path d="M69.20,298.76L70.80,300.60L69.20,302.44L67.60,300.60Z" fill="none" stroke="#9a50ff" stroke-width="0.55"/>
<circle cx="155.70" cy="174.40" r="2.21" fill="none" stroke="#ff9a50" stroke-width="0.55"/>
<circle cx="113.70" cy="181.40" r="2.21" fill="none" stroke="#ff9a50" stroke-width="0.55"/>
<circle cx="91.40" cy="188.30" r="2.21" fill="none" stroke="#ff9a50" stroke-width="0.55"/>
<circle cx="81.00" cy="194.70" r="2.21" fill="none" stroke="#ff9a50" stroke-width="0.55"/>
<circle cx="78.50" cy="201.20" r="2.21" fill="none" stroke="#ff9a50" stroke-width="0.55"/>
<circle cx="78.20" cy="208.00" r="2.21" fill="none" stroke="#ff9a50" stroke-width="0.55"/>
<circle cx="77.80" cy="214.70" r="2.21" fill="none" stroke="#ff9a50" stroke-width="0.55"/>
<circle cx="77.60" cy="221.20" r="2.21" fill="none" stroke="#ff9a50" stroke-width="0.55"/>
<circle cx="76.60" cy="228.00" r="2.21" fill="none" stroke="#ff9a50" stroke-width="0.55"/>
<circle cx="75.40" cy="234.60" r="2.21" fill="none" stroke="#ff9a50" stroke-width="0.55"/>
<circle cx="74.60" cy="241.00" r="2.21" fill="none" stroke="#ff9a50" stroke-width="0.55"/>
<circle cx="74.00" cy="247.90" r="2.21" fill="none" stroke="#ff9a50" stroke-width="0.55"/>
<circle cx="73.80" cy="254.50" r="2.21" fill="none" stroke="#ff9a50" stroke-width="0.55"/>
<circle cx="74.00" cy="261.00" r="2.21" fill="none" stroke="#ff9a50" stroke-width="0.55"/>
<circle cx="74.40" cy="267.80" r="2.21" fill="none" stroke="#ff9a50" stroke-width="0.55"/>
<circle cx="74.40" cy="274.60" r="2.21" fill="none" stroke="#ff9a50" stroke-width="0.55"/>
<circle cx="74.20" cy="281.50" r="2.21" fill="none" stroke="#ff9a50" stroke-width="0.55"/>
<circle cx="73.20" cy="288.00" r="2.21" fill="none" stroke="#ff9a50" stroke-width="0.55"/>
<circle cx="71.20" cy="294.30" r="2.21" fill="none" stroke="#ff9a50" stroke-width="0.55"/>
<circle cx="69.20" cy="300.60" r="2.21" fill="none" stroke="#ff9a50" stroke-width="0.55"/>
<circle cx="153.00" cy="174.40" r="2.05" fill="none" stroke="#ec4a30" stroke-width="0.65"/>
<circle cx="113.70" cy="181.40" r="2.05" fill="none" stroke="#ec4a30" stroke-width="0.65"/>
<circle cx="91.40" cy="188.30" r="2.05" fill="none" stroke="#ec4a30" stroke-width="0.65"/>
<circle cx="81.00" cy="194.70" r="2.05" fill="none" stroke="#ec4a30" stroke-width="0.65"/>
<circle cx="78.50" cy="201.20" r="2.05" fill="none" stroke="#ec4a30" stroke-width="0.65"/>
<circle cx="78.20" cy="208.00" r="2.05" fill="none" stroke="#ec4a30" stroke-width="0.65"/>
<circle cx="77.80" cy="214.70" r="2.05" fill="none" stroke="#ec4a30" stroke-width="0.65"/>
<circle cx="77.60" cy="221.20" r="2.05" fill="none" stroke="#ec4a30" stroke-width="0.65"/>
<circle cx="76.60" cy="228.00" r="2.05" fill="none" stroke="#ec4a30" stroke-width="0.65"/>
<circle cx="75.40" cy="234.60" r="2.05" fill="none" stroke="#ec4a30" stroke-width="0.65"/>
<circle cx="74.60" cy="241.00" r="2.05" fill="none" stroke="#ec4a30" stroke-width="0.65"/>
<circle cx="74.00" cy="247.90" r="2.05" fill="none" stroke="#ec4a30" stroke-width="0.65"/>
<circle cx="73.80" cy="254.50" r="2.05" fill="none" stroke="#ec4a30" stroke-width="0.65"/>
<circle cx="74.00" cy="261.00" r="2.05" fill="none" stroke="#ec4a30" stroke-width="0.65"/>
<circle cx="74.40" cy="267.80" r="2.05" fill="none" stroke="#ec4a30" stroke-width="0.65"/>
<circle cx="74.40" cy="274.60" r="2.05" fill="none" stroke="#ec4a30" stroke-width="0.65"/>
<circle cx="74.20" cy="281.50" r="2.05" fill="none" stroke="#ec4a30" stroke-width="0.65"/>
<circle cx="73.20" cy="288.00" r="2.05" fill="none" stroke="#ec4a30" stroke-width="0.65"/>
<circle cx="71.20" cy="294.30" r="2.05" fill="none" stroke="#ec4a30" stroke-width="0.65"/>
<circle cx="69.20" cy="300.60" r="2.05" fill="none" stroke="#ec4a30" stroke-width="0.65"/>
<path d="M254.80,178.90 C252.07,180.12 242.37,184.05 238.40,186.20 C234.43,188.35 233.02,189.62 231.00,191.80 C228.98,193.98 227.20,196.97 226.30,199.30 C225.40,201.63 225.00,203.55 225.60,205.80 C226.20,208.05 228.13,210.50 229.90,212.80 C231.67,215.10 234.55,217.45 236.20,219.60 C237.85,221.75 238.63,223.55 239.80,225.70 C240.97,227.85 241.90,230.20 243.20,232.50 C244.50,234.80 246.10,237.12 247.60,239.50 C249.10,241.88 250.65,244.40 252.20,246.80 C253.75,249.20 255.18,251.57 256.90,253.90 C258.62,256.23 260.60,258.57 262.50,260.80 C264.40,263.03 266.30,265.08 268.30,267.30 C270.30,269.52 272.50,271.88 274.50,274.10 C276.50,276.32 278.42,278.45 280.30,280.60 C282.18,282.75 284.12,284.85 285.80,287.00 C287.48,289.15 288.53,291.23 290.40,293.50 C292.27,295.77 295.90,299.42 297.00,300.60 L304.50,303.00 L313.00,304.60 L331.00,305.80 L346.00,306.20" fill="none" stroke="#5555ff" stroke-width="0.8" stroke-linejoin="round"/>
<path d="M318.00,172.60 C313.33,172.93 299.33,173.77 290.00,174.60 C280.67,175.43 267.87,176.88 262.00,177.60 C256.13,178.32 256.00,178.68 254.80,178.90" fill="none" stroke="#22cc22" stroke-width="0.8" stroke-linejoin="round"/>
<path d="M254.80,178.90 C251.17,180.52 237.75,186.08 233.00,188.60 C228.25,191.12 227.97,191.93 226.30,194.00 C224.63,196.07 223.22,198.67 223.00,201.00 C222.78,203.33 223.22,204.90 225.00,208.00 C226.78,211.10 232.25,217.67 233.70,219.60" fill="none" stroke="#22cc22" stroke-width="0.8" stroke-linejoin="round"/>
<path d="M277.10,280.60 C277.78,281.67 279.78,284.85 281.20,287.00 C282.62,289.15 283.67,291.23 285.60,293.50 C287.53,295.77 291.60,299.42 292.80,300.60 L304.90,304.20 L313.00,305.40 L331.00,306.30 L346.00,306.60" fill="none" stroke="#22cc22" stroke-width="0.8" stroke-linejoin="round"/>
<path d="M318.60,173.30 C313.83,173.63 300.63,174.37 290.00,175.30 C279.37,176.23 265.28,177.25 254.80,178.90 C244.32,180.55 232.85,182.93 227.10,185.20 C221.35,187.47 221.43,190.15 220.30,192.50 C219.17,194.85 219.78,197.08 220.30,199.30 C220.82,201.52 222.17,203.55 223.40,205.80 C224.63,208.05 225.98,210.50 227.70,212.80 C229.42,215.10 232.17,217.45 233.70,219.60 C235.23,221.75 235.85,223.55 236.90,225.70 C237.95,227.85 238.77,230.20 240.00,232.50 C241.23,234.80 242.83,237.12 244.30,239.50 C245.77,241.88 247.27,244.40 248.80,246.80 C250.33,249.20 251.78,251.57 253.50,253.90 C255.22,256.23 257.20,258.57 259.10,260.80 C261.00,263.03 262.87,265.08 264.90,267.30 C266.93,269.52 269.27,271.88 271.30,274.10 C273.33,276.32 275.20,278.45 277.10,280.60 C279.00,282.75 280.97,284.85 282.70,287.00 C284.43,289.15 285.57,291.23 287.50,293.50 C289.43,295.77 293.17,299.42 294.30,300.60 L304.90,304.20 L313.00,305.40 L331.00,306.30 L346.00,306.60" fill="none" stroke="#ff9a4a" stroke-width="1.0" stroke-linejoin="round"/>
<rect x="229.50" y="186.50" width="3.60" height="3.60" fill="#000"/>
<rect x="226.40" y="223.90" width="3.60" height="3.60" fill="#000"/>
<rect x="236.00" y="236.80" width="3.60" height="3.60" fill="#000"/>
<rect x="243.70" y="250.40" width="3.60" height="3.60" fill="#000"/>
<rect x="253.40" y="263.30" width="3.60" height="3.60" fill="#000"/>
<rect x="267.40" y="277.30" width="3.60" height="3.60" fill="#000"/>
<rect x="286.10" y="289.50" width="3.60" height="3.60" fill="#000"/>
<path d="M254.80,176.98L256.54,180.29L253.06,180.29Z" fill="none" stroke="#5555ff" stroke-width="0.55"/>
<path d="M238.40,184.28L240.14,187.59L236.66,187.59Z" fill="none" stroke="#5555ff" stroke-width="0.55"/>
<path d="M231.00,189.88L232.74,193.19L229.26,193.19Z" fill="none" stroke="#5555ff" stroke-width="0.55"/>
<path d="M226.30,197.38L228.04,200.69L224.56,200.69Z" fill="none" stroke="#5555ff" stroke-width="0.55"/>
<path d="M225.60,203.88L227.34,207.19L223.86,207.19Z" fill="none" stroke="#5555ff" stroke-width="0.55"/>
<path d="M229.90,210.88L231.64,214.19L228.16,214.19Z" fill="none" stroke="#5555ff" stroke-width="0.55"/>
<path d="M236.20,217.68L237.94,220.99L234.46,220.99Z" fill="none" stroke="#5555ff" stroke-width="0.55"/>
<path d="M239.80,223.78L241.54,227.09L238.06,227.09Z" fill="none" stroke="#5555ff" stroke-width="0.55"/>
<path d="M243.20,230.58L244.94,233.89L241.46,233.89Z" fill="none" stroke="#5555ff" stroke-width="0.55"/>
<path d="M247.60,237.58L249.34,240.89L245.86,240.89Z" fill="none" stroke="#5555ff" stroke-width="0.55"/>
<path d="M252.20,244.88L253.94,248.19L250.46,248.19Z" fill="none" stroke="#5555ff" stroke-width="0.55"/>
<path d="M256.90,251.98L258.64,255.29L255.16,255.29Z" fill="none" stroke="#5555ff" stroke-width="0.55"/>
<path d="M262.50,258.88L264.24,262.19L260.76,262.19Z" fill="none" stroke="#5555ff" stroke-width="0.55"/>
<path d="M268.30,265.38L270.04,268.69L266.56,268.69Z" fill="none" stroke="#5555ff" stroke-width="0.55"/>
<path d="M274.50,272.18L276.24,275.49L272.76,275.49Z" fill="none" stroke="#5555ff" stroke-width="0.55"/>
<path d="M280.30,278.68L282.04,281.99L278.56,281.99Z" fill="none" stroke="#5555ff" stroke-width="0.55"/>
<path d="M285.80,285.08L287.54,288.39L284.06,288.39Z" fill="none" stroke="#5555ff" stroke-width="0.55"/>
<path d="M290.40,291.58L292.14,294.89L288.66,294.89Z" fill="none" stroke="#5555ff" stroke-width="0.55"/>
<path d="M297.00,298.68L298.74,301.99L295.26,301.99Z" fill="none" stroke="#5555ff" stroke-width="0.55"/>
<path d="M254.80,180.59L256.34,177.67L253.26,177.67Z" fill="none" stroke="#22cc22" stroke-width="0.55"/>
<path d="M233.00,190.29L234.54,187.37L231.46,187.37Z" fill="none" stroke="#22cc22" stroke-width="0.55"/>
<path d="M226.30,195.69L227.84,192.77L224.76,192.77Z" fill="none" stroke="#22cc22" stroke-width="0.55"/>
<path d="M223.00,202.69L224.54,199.77L221.46,199.77Z" fill="none" stroke="#22cc22" stroke-width="0.55"/>
<path d="M225.00,209.69L226.54,206.77L223.46,206.77Z" fill="none" stroke="#22cc22" stroke-width="0.55"/>
<path d="M233.70,221.29L235.24,218.37L232.16,218.37Z" fill="none" stroke="#22cc22" stroke-width="0.55"/>
<path d="M236.90,227.39L238.44,224.47L235.36,224.47Z" fill="none" stroke="#22cc22" stroke-width="0.55"/>
<path d="M240.00,234.19L241.54,231.27L238.46,231.27Z" fill="none" stroke="#22cc22" stroke-width="0.55"/>
<path d="M244.30,241.19L245.84,238.27L242.76,238.27Z" fill="none" stroke="#22cc22" stroke-width="0.55"/>
<path d="M248.80,248.49L250.34,245.57L247.26,245.57Z" fill="none" stroke="#22cc22" stroke-width="0.55"/>
<path d="M253.50,255.59L255.04,252.67L251.96,252.67Z" fill="none" stroke="#22cc22" stroke-width="0.55"/>
<path d="M259.10,262.49L260.64,259.57L257.56,259.57Z" fill="none" stroke="#22cc22" stroke-width="0.55"/>
<path d="M264.90,268.99L266.44,266.07L263.36,266.07Z" fill="none" stroke="#22cc22" stroke-width="0.55"/>
<path d="M271.30,275.79L272.84,272.87L269.76,272.87Z" fill="none" stroke="#22cc22" stroke-width="0.55"/>
<path d="M277.10,282.29L278.64,279.37L275.56,279.37Z" fill="none" stroke="#22cc22" stroke-width="0.55"/>
<path d="M281.20,288.69L282.74,285.77L279.66,285.77Z" fill="none" stroke="#22cc22" stroke-width="0.55"/>
<path d="M285.60,295.19L287.14,292.27L284.06,292.27Z" fill="none" stroke="#22cc22" stroke-width="0.55"/>
<path d="M292.80,302.29L294.34,299.37L291.26,299.37Z" fill="none" stroke="#22cc22" stroke-width="0.55"/>
<path d="M254.80,177.06L256.40,178.90L254.80,180.74L253.20,178.90Z" fill="none" stroke="#9a50ff" stroke-width="0.55"/>
<path d="M227.10,183.36L228.70,185.20L227.10,187.04L225.50,185.20Z" fill="none" stroke="#9a50ff" stroke-width="0.55"/>
<path d="M220.30,190.66L221.90,192.50L220.30,194.34L218.70,192.50Z" fill="none" stroke="#9a50ff" stroke-width="0.55"/>
<path d="M220.30,197.46L221.90,199.30L220.30,201.14L218.70,199.30Z" fill="none" stroke="#9a50ff" stroke-width="0.55"/>
<path d="M223.40,203.96L225.00,205.80L223.40,207.64L221.80,205.80Z" fill="none" stroke="#9a50ff" stroke-width="0.55"/>
<path d="M227.70,210.96L229.30,212.80L227.70,214.64L226.10,212.80Z" fill="none" stroke="#9a50ff" stroke-width="0.55"/>
<path d="M233.70,217.76L235.30,219.60L233.70,221.44L232.10,219.60Z" fill="none" stroke="#9a50ff" stroke-width="0.55"/>
<path d="M236.90,223.86L238.50,225.70L236.90,227.54L235.30,225.70Z" fill="none" stroke="#9a50ff" stroke-width="0.55"/>
<path d="M240.00,230.66L241.60,232.50L240.00,234.34L238.40,232.50Z" fill="none" stroke="#9a50ff" stroke-width="0.55"/>
<path d="M244.30,237.66L245.90,239.50L244.30,241.34L242.70,239.50Z" fill="none" stroke="#9a50ff" stroke-width="0.55"/>
<path d="M248.80,244.96L250.40,246.80L248.80,248.64L247.20,246.80Z" fill="none" stroke="#9a50ff" stroke-width="0.55"/>
<path d="M253.50,252.06L255.10,253.90L253.50,255.74L251.90,253.90Z" fill="none" stroke="#9a50ff" stroke-width="0.55"/>
<path d="M259.10,258.96L260.70,260.80L259.10,262.64L257.50,260.80Z" fill="none" stroke="#9a50ff" stroke-width="0.55"/>
<path d="M264.90,265.46L266.50,267.30L264.90,269.14L263.30,267.30Z" fill="none" stroke="#9a50ff" stroke-width="0.55"/>
<path d="M271.30,272.26L272.90,274.10L271.30,275.94L269.70,274.10Z" fill="none" stroke="#9a50ff" stroke-width="0.55"/>
<path d="M277.10,278.76L278.70,280.60L277.10,282.44L275.50,280.60Z" fill="none" stroke="#9a50ff" stroke-width="0.55"/>
<path d="M282.70,285.16L284.30,287.00L282.70,288.84L281.10,287.00Z" fill="none" stroke="#9a50ff" stroke-width="0.55"/>
<path d="M287.50,291.66L289.10,293.50L287.50,295.34L285.90,293.50Z" fill="none" stroke="#9a50ff" stroke-width="0.55"/>
<path d="M294.30,298.76L295.90,300.60L294.30,302.44L292.70,300.60Z" fill="none" stroke="#9a50ff" stroke-width="0.55"/>
<circle cx="254.80" cy="178.90" r="2.21" fill="none" stroke="#ff9a50" stroke-width="0.55"/>
<circle cx="227.10" cy="185.20" r="2.21" fill="none" stroke="#ff9a50" stroke-width="0.55"/>
<circle cx="220.30" cy="192.50" r="2.21" fill="none" stroke="#ff9a50" stroke-width="0.55"/>
<circle cx="220.30" cy="199.30" r="2.21" fill="none" stroke="#ff9a50" stroke-width="0.55"/>
<circle cx="223.40" cy="205.80" r="2.21" fill="none" stroke="#ff9a50" stroke-width="0.55"/>
<circle cx="227.70" cy="212.80" r="2.21" fill="none" stroke="#ff9a50" stroke-width="0.55"/>
<circle cx="233.70" cy="219.60" r="2.21" fill="none" stroke="#ff9a50" stroke-width="0.55"/>
<circle cx="236.90" cy="225.70" r="2.21" fill="none" stroke="#ff9a50" stroke-width="0.55"/>
<circle cx="240.00" cy="232.50" r="2.21" fill="none" stroke="#ff9a50" stroke-width="0.55"/>
<circle cx="244.30" cy="239.50" r="2.21" fill="none" stroke="#ff9a50" stroke-width="0.55"/>
<circle cx="248.80" cy="246.80" r="2.21" fill="none" stroke="#ff9a50" stroke-width="0.55"/>
<circle cx="253.50" cy="253.90" r="2.21" fill="none" stroke="#ff9a50" stroke-width="0.55"/>
<circle cx="259.10" cy="260.80" r="2.21" fill="none" stroke="#ff9a50" stroke-width="0.55"/>
<circle cx="264.90" cy="267.30" r="2.21" fill="none" stroke="#ff9a50" stroke-width="0.55"/>
<circle cx="271.30" cy="274.10" r="2.21" fill="none" stroke="#ff9a50" stroke-width="0.55"/>
<circle cx="277.10" cy="280.60" r="2.21" fill="none" stroke="#ff9a50" stroke-width="0.55"/>
<circle cx="282.70" cy="287.00" r="2.21" fill="none" stroke="#ff9a50" stroke-width="0.55"/>
<circle cx="287.50" cy="293.50" r="2.21" fill="none" stroke="#ff9a50" stroke-width="0.55"/>
<circle cx="294.30" cy="300.60" r="2.21" fill="none" stroke="#ff9a50" stroke-width="0.55"/>
<circle cx="254.80" cy="178.90" r="2.05" fill="none" stroke="#ec4a30" stroke-width="0.65"/>
<circle cx="227.10" cy="185.20" r="2.05" fill="none" stroke="#ec4a30" stroke-width="0.65"/>
<circle cx="220.30" cy="192.50" r="2.05" fill="none" stroke="#ec4a30" stroke-width="0.65"/>
<circle cx="220.30" cy="199.30" r="2.05" fill="none" stroke="#ec4a30" stroke-width="0.65"/>
<circle cx="223.40" cy="205.80" r="2.05" fill="none" stroke="#ec4a30" stroke-width="0.65"/>
<circle cx="227.70" cy="212.80" r="2.05" fill="none" stroke="#ec4a30" stroke-width="0.65"/>
<circle cx="233.70" cy="219.60" r="2.05" fill="none" stroke="#ec4a30" stroke-width="0.65"/>
<circle cx="236.90" cy="225.70" r="2.05" fill="none" stroke="#ec4a30" stroke-width="0.65"/>
<circle cx="240.00" cy="232.50" r="2.05" fill="none" stroke="#ec4a30" stroke-width="0.65"/>
<circle cx="244.30" cy="239.50" r="2.05" fill="none" stroke="#ec4a30" stroke-width="0.65"/>
<circle cx="248.80" cy="246.80" r="2.05" fill="none" stroke="#ec4a30" stroke-width="0.65"/>
<circle cx="253.50" cy="253.90" r="2.05" fill="none" stroke="#ec4a30" stroke-width="0.65"/>
<circle cx="259.10" cy="260.80" r="2.05" fill="none" stroke="#ec4a30" stroke-width="0.65"/>
<circle cx="264.90" cy="267.30" r="2.05" fill="none" stroke="#ec4a30" stroke-width="0.65"/>
<circle cx="271.30" cy="274.10" r="2.05" fill="none" stroke="#ec4a30" stroke-width="0.65"/>
<circle cx="277.10" cy="280.60" r="2.05" fill="none" stroke="#ec4a30" stroke-width="0.65"/>
<circle cx="282.70" cy="287.00" r="2.05" fill="none" stroke="#ec4a30" stroke-width="0.65"/>
<circle cx="287.50" cy="293.50" r="2.05" fill="none" stroke="#ec4a30" stroke-width="0.65"/>
<circle cx="294.30" cy="300.60" r="2.05" fill="none" stroke="#ec4a30" stroke-width="0.65"/>
<path d="M22.3,15.0 L22.3,144.8 L165.5,144.8" fill="none" stroke="#3a3a3a" stroke-width="1.0"/>
<path d="M22.3,144.80 h2.9" stroke="#3a3a3a" stroke-width="0.9"/>
<g transform="translate(20.30 146.78) scale(0.1)"><text x="0" y="0" font-size="55.00" text-anchor="end" font-weight="normal" fill="#222" stroke="#222" stroke-width="1.50">0</text></g>
<path d="M22.3,118.84 h2.9" stroke="#3a3a3a" stroke-width="0.9"/>
<g transform="translate(20.30 120.82) scale(0.1)"><text x="0" y="0" font-size="55.00" text-anchor="end" font-weight="normal" fill="#222" stroke="#222" stroke-width="1.50">0.2</text></g>
<path d="M22.3,92.88 h2.9" stroke="#3a3a3a" stroke-width="0.9"/>
<g transform="translate(20.30 94.86) scale(0.1)"><text x="0" y="0" font-size="55.00" text-anchor="end" font-weight="normal" fill="#222" stroke="#222" stroke-width="1.50">0.4</text></g>
<path d="M22.3,66.92 h2.9" stroke="#3a3a3a" stroke-width="0.9"/>
<g transform="translate(20.30 68.90) scale(0.1)"><text x="0" y="0" font-size="55.00" text-anchor="end" font-weight="normal" fill="#222" stroke="#222" stroke-width="1.50">0.6</text></g>
<path d="M22.3,40.96 h2.9" stroke="#3a3a3a" stroke-width="0.9"/>
<g transform="translate(20.30 42.94) scale(0.1)"><text x="0" y="0" font-size="55.00" text-anchor="end" font-weight="normal" fill="#222" stroke="#222" stroke-width="1.50">0.8</text></g>
<path d="M22.3,15.00 h2.9" stroke="#3a3a3a" stroke-width="0.9"/>
<g transform="translate(20.30 16.98) scale(0.1)"><text x="0" y="0" font-size="55.00" text-anchor="end" font-weight="normal" fill="#222" stroke="#222" stroke-width="1.50">1</text></g>
<path d="M22.3,144.80 h1.595" stroke="#3a3a3a" stroke-width="0.6"/>
<path d="M22.3,138.31 h1.595" stroke="#3a3a3a" stroke-width="0.6"/>
<path d="M22.3,131.82 h1.595" stroke="#3a3a3a" stroke-width="0.6"/>
<path d="M22.3,125.33 h1.595" stroke="#3a3a3a" stroke-width="0.6"/>
<path d="M22.3,118.84 h1.595" stroke="#3a3a3a" stroke-width="0.6"/>
<path d="M22.3,112.35 h1.595" stroke="#3a3a3a" stroke-width="0.6"/>
<path d="M22.3,105.86 h1.595" stroke="#3a3a3a" stroke-width="0.6"/>
<path d="M22.3,99.37 h1.595" stroke="#3a3a3a" stroke-width="0.6"/>
<path d="M22.3,92.88 h1.595" stroke="#3a3a3a" stroke-width="0.6"/>
<path d="M22.3,86.39 h1.595" stroke="#3a3a3a" stroke-width="0.6"/>
<path d="M22.3,79.90 h1.595" stroke="#3a3a3a" stroke-width="0.6"/>
<path d="M22.3,73.41 h1.595" stroke="#3a3a3a" stroke-width="0.6"/>
<path d="M22.3,66.92 h1.595" stroke="#3a3a3a" stroke-width="0.6"/>
<path d="M22.3,60.43 h1.595" stroke="#3a3a3a" stroke-width="0.6"/>
<path d="M22.3,53.94 h1.595" stroke="#3a3a3a" stroke-width="0.6"/>
<path d="M22.3,47.45 h1.595" stroke="#3a3a3a" stroke-width="0.6"/>
<path d="M22.3,40.96 h1.595" stroke="#3a3a3a" stroke-width="0.6"/>
<path d="M22.3,34.47 h1.595" stroke="#3a3a3a" stroke-width="0.6"/>
<path d="M22.3,27.98 h1.595" stroke="#3a3a3a" stroke-width="0.6"/>
<path d="M22.3,21.49 h1.595" stroke="#3a3a3a" stroke-width="0.6"/>
<path d="M22.3,15.00 h1.595" stroke="#3a3a3a" stroke-width="0.6"/>
<path d="M22.30,144.8 v-2.9" stroke="#3a3a3a" stroke-width="0.9"/>
<g transform="translate(22.30 150.80) scale(0.1)"><text x="0" y="0" font-size="51.00" text-anchor="middle" font-weight="normal" fill="#222" stroke="#222" stroke-width="1.50">1.3</text></g>
<path d="M38.21,144.8 v-2.9" stroke="#3a3a3a" stroke-width="0.9"/>
<g transform="translate(38.21 150.80) scale(0.1)"><text x="0" y="0" font-size="51.00" text-anchor="middle" font-weight="normal" fill="#222" stroke="#222" stroke-width="1.50">1.35</text></g>
<path d="M54.12,144.8 v-2.9" stroke="#3a3a3a" stroke-width="0.9"/>
<g transform="translate(54.12 150.80) scale(0.1)"><text x="0" y="0" font-size="51.00" text-anchor="middle" font-weight="normal" fill="#222" stroke="#222" stroke-width="1.50">1.4</text></g>
<path d="M70.03,144.8 v-2.9" stroke="#3a3a3a" stroke-width="0.9"/>
<g transform="translate(70.03 150.80) scale(0.1)"><text x="0" y="0" font-size="51.00" text-anchor="middle" font-weight="normal" fill="#222" stroke="#222" stroke-width="1.50">1.45</text></g>
<path d="M85.94,144.8 v-2.9" stroke="#3a3a3a" stroke-width="0.9"/>
<g transform="translate(85.94 150.80) scale(0.1)"><text x="0" y="0" font-size="51.00" text-anchor="middle" font-weight="normal" fill="#222" stroke="#222" stroke-width="1.50">1.5</text></g>
<path d="M101.86,144.8 v-2.9" stroke="#3a3a3a" stroke-width="0.9"/>
<g transform="translate(101.86 150.80) scale(0.1)"><text x="0" y="0" font-size="51.00" text-anchor="middle" font-weight="normal" fill="#222" stroke="#222" stroke-width="1.50">1.55</text></g>
<path d="M117.77,144.8 v-2.9" stroke="#3a3a3a" stroke-width="0.9"/>
<g transform="translate(117.77 150.80) scale(0.1)"><text x="0" y="0" font-size="51.00" text-anchor="middle" font-weight="normal" fill="#222" stroke="#222" stroke-width="1.50">1.6</text></g>
<path d="M133.68,144.8 v-2.9" stroke="#3a3a3a" stroke-width="0.9"/>
<g transform="translate(133.68 150.80) scale(0.1)"><text x="0" y="0" font-size="51.00" text-anchor="middle" font-weight="normal" fill="#222" stroke="#222" stroke-width="1.50">1.65</text></g>
<path d="M149.59,144.8 v-2.9" stroke="#3a3a3a" stroke-width="0.9"/>
<g transform="translate(149.59 150.80) scale(0.1)"><text x="0" y="0" font-size="51.00" text-anchor="middle" font-weight="normal" fill="#222" stroke="#222" stroke-width="1.50">1.7</text></g>
<path d="M165.50,144.8 v-2.9" stroke="#3a3a3a" stroke-width="0.9"/>
<g transform="translate(165.50 150.80) scale(0.1)"><text x="0" y="0" font-size="51.00" text-anchor="middle" font-weight="normal" fill="#222" stroke="#222" stroke-width="1.50">1.75</text></g>
<path d="M22.30,144.8 v-1.595" stroke="#3a3a3a" stroke-width="0.6"/>
<path d="M25.48,144.8 v-1.595" stroke="#3a3a3a" stroke-width="0.6"/>
<path d="M28.66,144.8 v-1.595" stroke="#3a3a3a" stroke-width="0.6"/>
<path d="M31.85,144.8 v-1.595" stroke="#3a3a3a" stroke-width="0.6"/>
<path d="M35.03,144.8 v-1.595" stroke="#3a3a3a" stroke-width="0.6"/>
<path d="M38.21,144.8 v-1.595" stroke="#3a3a3a" stroke-width="0.6"/>
<path d="M41.39,144.8 v-1.595" stroke="#3a3a3a" stroke-width="0.6"/>
<path d="M44.58,144.8 v-1.595" stroke="#3a3a3a" stroke-width="0.6"/>
<path d="M47.76,144.8 v-1.595" stroke="#3a3a3a" stroke-width="0.6"/>
<path d="M50.94,144.8 v-1.595" stroke="#3a3a3a" stroke-width="0.6"/>
<path d="M54.12,144.8 v-1.595" stroke="#3a3a3a" stroke-width="0.6"/>
<path d="M57.30,144.8 v-1.595" stroke="#3a3a3a" stroke-width="0.6"/>
<path d="M60.49,144.8 v-1.595" stroke="#3a3a3a" stroke-width="0.6"/>
<path d="M63.67,144.8 v-1.595" stroke="#3a3a3a" stroke-width="0.6"/>
<path d="M66.85,144.8 v-1.595" stroke="#3a3a3a" stroke-width="0.6"/>
<path d="M70.03,144.8 v-1.595" stroke="#3a3a3a" stroke-width="0.6"/>
<path d="M73.22,144.8 v-1.595" stroke="#3a3a3a" stroke-width="0.6"/>
<path d="M76.40,144.8 v-1.595" stroke="#3a3a3a" stroke-width="0.6"/>
<path d="M79.58,144.8 v-1.595" stroke="#3a3a3a" stroke-width="0.6"/>
<path d="M82.76,144.8 v-1.595" stroke="#3a3a3a" stroke-width="0.6"/>
<path d="M85.94,144.8 v-1.595" stroke="#3a3a3a" stroke-width="0.6"/>
<path d="M89.13,144.8 v-1.595" stroke="#3a3a3a" stroke-width="0.6"/>
<path d="M92.31,144.8 v-1.595" stroke="#3a3a3a" stroke-width="0.6"/>
<path d="M95.49,144.8 v-1.595" stroke="#3a3a3a" stroke-width="0.6"/>
<path d="M98.67,144.8 v-1.595" stroke="#3a3a3a" stroke-width="0.6"/>
<path d="M101.86,144.8 v-1.595" stroke="#3a3a3a" stroke-width="0.6"/>
<path d="M105.04,144.8 v-1.595" stroke="#3a3a3a" stroke-width="0.6"/>
<path d="M108.22,144.8 v-1.595" stroke="#3a3a3a" stroke-width="0.6"/>
<path d="M111.40,144.8 v-1.595" stroke="#3a3a3a" stroke-width="0.6"/>
<path d="M114.58,144.8 v-1.595" stroke="#3a3a3a" stroke-width="0.6"/>
<path d="M117.77,144.8 v-1.595" stroke="#3a3a3a" stroke-width="0.6"/>
<path d="M120.95,144.8 v-1.595" stroke="#3a3a3a" stroke-width="0.6"/>
<path d="M124.13,144.8 v-1.595" stroke="#3a3a3a" stroke-width="0.6"/>
<path d="M127.31,144.8 v-1.595" stroke="#3a3a3a" stroke-width="0.6"/>
<path d="M130.50,144.8 v-1.595" stroke="#3a3a3a" stroke-width="0.6"/>
<path d="M133.68,144.8 v-1.595" stroke="#3a3a3a" stroke-width="0.6"/>
<path d="M136.86,144.8 v-1.595" stroke="#3a3a3a" stroke-width="0.6"/>
<path d="M140.04,144.8 v-1.595" stroke="#3a3a3a" stroke-width="0.6"/>
<path d="M143.22,144.8 v-1.595" stroke="#3a3a3a" stroke-width="0.6"/>
<path d="M146.41,144.8 v-1.595" stroke="#3a3a3a" stroke-width="0.6"/>
<path d="M149.59,144.8 v-1.595" stroke="#3a3a3a" stroke-width="0.6"/>
<path d="M152.77,144.8 v-1.595" stroke="#3a3a3a" stroke-width="0.6"/>
<path d="M155.95,144.8 v-1.595" stroke="#3a3a3a" stroke-width="0.6"/>
<path d="M159.14,144.8 v-1.595" stroke="#3a3a3a" stroke-width="0.6"/>
<path d="M162.32,144.8 v-1.595" stroke="#3a3a3a" stroke-width="0.6"/>
<path d="M165.50,144.8 v-1.595" stroke="#3a3a3a" stroke-width="0.6"/>
<g transform="translate(93.50 158.10) scale(0.1)"><text x="0" y="0" font-size="62.00" text-anchor="middle" font-weight="bold" fill="#111" stroke="#111" stroke-width="2.00">Total Pressure Ratio</text></g>
<g transform="translate(8.00 79.60) rotate(-90) scale(0.1)"><text x="0" y="0" font-size="62.00" text-anchor="middle" font-weight="bold" fill="#111" stroke="#111" stroke-width="2.00">Span</text></g>
<g transform="translate(-0.20 5.90) scale(0.1)"><text x="0" y="0" font-size="76.00" text-anchor="start" font-weight="normal" fill="#222" stroke="#222" stroke-width="1.50">(a)</text></g>
<path d="M197.5,6.6 L197.5,144.4 L349.3,144.4" fill="none" stroke="#3a3a3a" stroke-width="1.0"/>
<path d="M197.5,144.40 h3.1" stroke="#3a3a3a" stroke-width="0.9"/>
<g transform="translate(196.00 146.70) scale(0.1)"><text x="0" y="0" font-size="64.00" text-anchor="end" font-weight="normal" fill="#222" stroke="#222" stroke-width="1.50">0</text></g>
<path d="M197.5,116.84 h3.1" stroke="#3a3a3a" stroke-width="0.9"/>
<g transform="translate(196.00 119.14) scale(0.1)"><text x="0" y="0" font-size="64.00" text-anchor="end" font-weight="normal" fill="#222" stroke="#222" stroke-width="1.50">0.2</text></g>
<path d="M197.5,89.28 h3.1" stroke="#3a3a3a" stroke-width="0.9"/>
<g transform="translate(196.00 91.58) scale(0.1)"><text x="0" y="0" font-size="64.00" text-anchor="end" font-weight="normal" fill="#222" stroke="#222" stroke-width="1.50">0.4</text></g>
<path d="M197.5,61.72 h3.1" stroke="#3a3a3a" stroke-width="0.9"/>
<g transform="translate(196.00 64.02) scale(0.1)"><text x="0" y="0" font-size="64.00" text-anchor="end" font-weight="normal" fill="#222" stroke="#222" stroke-width="1.50">0.6</text></g>
<path d="M197.5,34.16 h3.1" stroke="#3a3a3a" stroke-width="0.9"/>
<g transform="translate(196.00 36.46) scale(0.1)"><text x="0" y="0" font-size="64.00" text-anchor="end" font-weight="normal" fill="#222" stroke="#222" stroke-width="1.50">0.8</text></g>
<path d="M197.5,6.60 h3.1" stroke="#3a3a3a" stroke-width="0.9"/>
<g transform="translate(196.00 8.90) scale(0.1)"><text x="0" y="0" font-size="64.00" text-anchor="end" font-weight="normal" fill="#222" stroke="#222" stroke-width="1.50">1</text></g>
<path d="M197.5,144.40 h1.7050000000000003" stroke="#3a3a3a" stroke-width="0.6"/>
<path d="M197.5,138.89 h1.7050000000000003" stroke="#3a3a3a" stroke-width="0.6"/>
<path d="M197.5,133.38 h1.7050000000000003" stroke="#3a3a3a" stroke-width="0.6"/>
<path d="M197.5,127.86 h1.7050000000000003" stroke="#3a3a3a" stroke-width="0.6"/>
<path d="M197.5,122.35 h1.7050000000000003" stroke="#3a3a3a" stroke-width="0.6"/>
<path d="M197.5,116.84 h1.7050000000000003" stroke="#3a3a3a" stroke-width="0.6"/>
<path d="M197.5,111.33 h1.7050000000000003" stroke="#3a3a3a" stroke-width="0.6"/>
<path d="M197.5,105.82 h1.7050000000000003" stroke="#3a3a3a" stroke-width="0.6"/>
<path d="M197.5,100.30 h1.7050000000000003" stroke="#3a3a3a" stroke-width="0.6"/>
<path d="M197.5,94.79 h1.7050000000000003" stroke="#3a3a3a" stroke-width="0.6"/>
<path d="M197.5,89.28 h1.7050000000000003" stroke="#3a3a3a" stroke-width="0.6"/>
<path d="M197.5,83.77 h1.7050000000000003" stroke="#3a3a3a" stroke-width="0.6"/>
<path d="M197.5,78.26 h1.7050000000000003" stroke="#3a3a3a" stroke-width="0.6"/>
<path d="M197.5,72.74 h1.7050000000000003" stroke="#3a3a3a" stroke-width="0.6"/>
<path d="M197.5,67.23 h1.7050000000000003" stroke="#3a3a3a" stroke-width="0.6"/>
<path d="M197.5,61.72 h1.7050000000000003" stroke="#3a3a3a" stroke-width="0.6"/>
<path d="M197.5,56.21 h1.7050000000000003" stroke="#3a3a3a" stroke-width="0.6"/>
<path d="M197.5,50.70 h1.7050000000000003" stroke="#3a3a3a" stroke-width="0.6"/>
<path d="M197.5,45.18 h1.7050000000000003" stroke="#3a3a3a" stroke-width="0.6"/>
<path d="M197.5,39.67 h1.7050000000000003" stroke="#3a3a3a" stroke-width="0.6"/>
<path d="M197.5,34.16 h1.7050000000000003" stroke="#3a3a3a" stroke-width="0.6"/>
<path d="M197.5,28.65 h1.7050000000000003" stroke="#3a3a3a" stroke-width="0.6"/>
<path d="M197.5,23.14 h1.7050000000000003" stroke="#3a3a3a" stroke-width="0.6"/>
<path d="M197.5,17.62 h1.7050000000000003" stroke="#3a3a3a" stroke-width="0.6"/>
<path d="M197.5,12.11 h1.7050000000000003" stroke="#3a3a3a" stroke-width="0.6"/>
<path d="M197.5,6.60 h1.7050000000000003" stroke="#3a3a3a" stroke-width="0.6"/>
<path d="M197.50,144.4 v-3.1" stroke="#3a3a3a" stroke-width="0.9"/>
<g transform="translate(197.50 151.80) scale(0.1)"><text x="0" y="0" font-size="64.00" text-anchor="middle" font-weight="normal" fill="#222" stroke="#222" stroke-width="1.50">0.5</text></g>
<path d="M227.86,144.4 v-3.1" stroke="#3a3a3a" stroke-width="0.9"/>
<g transform="translate(227.86 151.80) scale(0.1)"><text x="0" y="0" font-size="64.00" text-anchor="middle" font-weight="normal" fill="#222" stroke="#222" stroke-width="1.50">0.6</text></g>
<path d="M258.22,144.4 v-3.1" stroke="#3a3a3a" stroke-width="0.9"/>
<g transform="translate(258.22 151.80) scale(0.1)"><text x="0" y="0" font-size="64.00" text-anchor="middle" font-weight="normal" fill="#222" stroke="#222" stroke-width="1.50">0.7</text></g>
<path d="M288.58,144.4 v-3.1" stroke="#3a3a3a" stroke-width="0.9"/>
<g transform="translate(288.58 151.80) scale(0.1)"><text x="0" y="0" font-size="64.00" text-anchor="middle" font-weight="normal" fill="#222" stroke="#222" stroke-width="1.50">0.8</text></g>
<path d="M318.94,144.4 v-3.1" stroke="#3a3a3a" stroke-width="0.9"/>
<g transform="translate(318.94 151.80) scale(0.1)"><text x="0" y="0" font-size="64.00" text-anchor="middle" font-weight="normal" fill="#222" stroke="#222" stroke-width="1.50">0.9</text></g>
<path d="M349.30,144.4 v-3.1" stroke="#3a3a3a" stroke-width="0.9"/>
<g transform="translate(349.30 151.80) scale(0.1)"><text x="0" y="0" font-size="64.00" text-anchor="middle" font-weight="normal" fill="#222" stroke="#222" stroke-width="1.50">1</text></g>
<path d="M197.50,144.4 v-1.7050000000000003" stroke="#3a3a3a" stroke-width="0.6"/>
<path d="M203.57,144.4 v-1.7050000000000003" stroke="#3a3a3a" stroke-width="0.6"/>
<path d="M209.64,144.4 v-1.7050000000000003" stroke="#3a3a3a" stroke-width="0.6"/>
<path d="M215.72,144.4 v-1.7050000000000003" stroke="#3a3a3a" stroke-width="0.6"/>
<path d="M221.79,144.4 v-1.7050000000000003" stroke="#3a3a3a" stroke-width="0.6"/>
<path d="M227.86,144.4 v-1.7050000000000003" stroke="#3a3a3a" stroke-width="0.6"/>
<path d="M233.93,144.4 v-1.7050000000000003" stroke="#3a3a3a" stroke-width="0.6"/>
<path d="M240.00,144.4 v-1.7050000000000003" stroke="#3a3a3a" stroke-width="0.6"/>
<path d="M246.08,144.4 v-1.7050000000000003" stroke="#3a3a3a" stroke-width="0.6"/>
<path d="M252.15,144.4 v-1.7050000000000003" stroke="#3a3a3a" stroke-width="0.6"/>
<path d="M258.22,144.4 v-1.7050000000000003" stroke="#3a3a3a" stroke-width="0.6"/>
<path d="M264.29,144.4 v-1.7050000000000003" stroke="#3a3a3a" stroke-width="0.6"/>
<path d="M270.36,144.4 v-1.7050000000000003" stroke="#3a3a3a" stroke-width="0.6"/>
<path d="M276.44,144.4 v-1.7050000000000003" stroke="#3a3a3a" stroke-width="0.6"/>
<path d="M282.51,144.4 v-1.7050000000000003" stroke="#3a3a3a" stroke-width="0.6"/>
<path d="M288.58,144.4 v-1.7050000000000003" stroke="#3a3a3a" stroke-width="0.6"/>
<path d="M294.65,144.4 v-1.7050000000000003" stroke="#3a3a3a" stroke-width="0.6"/>
<path d="M300.72,144.4 v-1.7050000000000003" stroke="#3a3a3a" stroke-width="0.6"/>
<path d="M306.80,144.4 v-1.7050000000000003" stroke="#3a3a3a" stroke-width="0.6"/>
<path d="M312.87,144.4 v-1.7050000000000003" stroke="#3a3a3a" stroke-width="0.6"/>
<path d="M318.94,144.4 v-1.7050000000000003" stroke="#3a3a3a" stroke-width="0.6"/>
<path d="M325.01,144.4 v-1.7050000000000003" stroke="#3a3a3a" stroke-width="0.6"/>
<path d="M331.08,144.4 v-1.7050000000000003" stroke="#3a3a3a" stroke-width="0.6"/>
<path d="M337.16,144.4 v-1.7050000000000003" stroke="#3a3a3a" stroke-width="0.6"/>
<path d="M343.23,144.4 v-1.7050000000000003" stroke="#3a3a3a" stroke-width="0.6"/>
<path d="M349.30,144.4 v-1.7050000000000003" stroke="#3a3a3a" stroke-width="0.6"/>
<g transform="translate(273.40 159.60) scale(0.1)"><text x="0" y="0" font-size="71.00" text-anchor="middle" font-weight="bold" fill="#111" stroke="#111" stroke-width="2.00">Isentropic Efficiency</text></g>
<g transform="translate(182.90 75.20) rotate(-90) scale(0.1)"><text x="0" y="0" font-size="70.00" text-anchor="middle" font-weight="bold" fill="#111" stroke="#111" stroke-width="2.00">Span</text></g>
<g transform="translate(177.00 6.00) scale(0.1)"><text x="0" y="0" font-size="74.00" text-anchor="start" font-weight="normal" fill="#222" stroke="#222" stroke-width="1.50">(b)</text></g>
<path d="M19.5,174.5 L19.5,308.0 L164.9,308.0" fill="none" stroke="#3a3a3a" stroke-width="1.0"/>
<path d="M19.5,308.00 h3.1" stroke="#3a3a3a" stroke-width="0.9"/>
<g transform="translate(17.90 310.27) scale(0.1)"><text x="0" y="0" font-size="63.00" text-anchor="end" font-weight="normal" fill="#222" stroke="#222" stroke-width="1.50">0</text></g>
<path d="M19.5,281.30 h3.1" stroke="#3a3a3a" stroke-width="0.9"/>
<g transform="translate(17.90 283.57) scale(0.1)"><text x="0" y="0" font-size="63.00" text-anchor="end" font-weight="normal" fill="#222" stroke="#222" stroke-width="1.50">0.2</text></g>
<path d="M19.5,254.60 h3.1" stroke="#3a3a3a" stroke-width="0.9"/>
<g transform="translate(17.90 256.87) scale(0.1)"><text x="0" y="0" font-size="63.00" text-anchor="end" font-weight="normal" fill="#222" stroke="#222" stroke-width="1.50">0.4</text></g>
<path d="M19.5,227.90 h3.1" stroke="#3a3a3a" stroke-width="0.9"/>
<g transform="translate(17.90 230.17) scale(0.1)"><text x="0" y="0" font-size="63.00" text-anchor="end" font-weight="normal" fill="#222" stroke="#222" stroke-width="1.50">0.6</text></g>
<path d="M19.5,201.20 h3.1" stroke="#3a3a3a" stroke-width="0.9"/>
<g transform="translate(17.90 203.47) scale(0.1)"><text x="0" y="0" font-size="63.00" text-anchor="end" font-weight="normal" fill="#222" stroke="#222" stroke-width="1.50">0.8</text></g>
<path d="M19.5,174.50 h3.1" stroke="#3a3a3a" stroke-width="0.9"/>
<g transform="translate(17.90 176.77) scale(0.1)"><text x="0" y="0" font-size="63.00" text-anchor="end" font-weight="normal" fill="#222" stroke="#222" stroke-width="1.50">1</text></g>
<path d="M19.5,308.00 h1.7050000000000003" stroke="#3a3a3a" stroke-width="0.6"/>
<path d="M19.5,301.32 h1.7050000000000003" stroke="#3a3a3a" stroke-width="0.6"/>
<path d="M19.5,294.65 h1.7050000000000003" stroke="#3a3a3a" stroke-width="0.6"/>
<path d="M19.5,287.98 h1.7050000000000003" stroke="#3a3a3a" stroke-width="0.6"/>
<path d="M19.5,281.30 h1.7050000000000003" stroke="#3a3a3a" stroke-width="0.6"/>
<path d="M19.5,274.62 h1.7050000000000003" stroke="#3a3a3a" stroke-width="0.6"/>
<path d="M19.5,267.95 h1.7050000000000003" stroke="#3a3a3a" stroke-width="0.6"/>
<path d="M19.5,261.27 h1.7050000000000003" stroke="#3a3a3a" stroke-width="0.6"/>
<path d="M19.5,254.60 h1.7050000000000003" stroke="#3a3a3a" stroke-width="0.6"/>
<path d="M19.5,247.93 h1.7050000000000003" stroke="#3a3a3a" stroke-width="0.6"/>
<path d="M19.5,241.25 h1.7050000000000003" stroke="#3a3a3a" stroke-width="0.6"/>
<path d="M19.5,234.57 h1.7050000000000003" stroke="#3a3a3a" stroke-width="0.6"/>
<path d="M19.5,227.90 h1.7050000000000003" stroke="#3a3a3a" stroke-width="0.6"/>
<path d="M19.5,221.22 h1.7050000000000003" stroke="#3a3a3a" stroke-width="0.6"/>
<path d="M19.5,214.55 h1.7050000000000003" stroke="#3a3a3a" stroke-width="0.6"/>
<path d="M19.5,207.88 h1.7050000000000003" stroke="#3a3a3a" stroke-width="0.6"/>
<path d="M19.5,201.20 h1.7050000000000003" stroke="#3a3a3a" stroke-width="0.6"/>
<path d="M19.5,194.52 h1.7050000000000003" stroke="#3a3a3a" stroke-width="0.6"/>
<path d="M19.5,187.85 h1.7050000000000003" stroke="#3a3a3a" stroke-width="0.6"/>
<path d="M19.5,181.18 h1.7050000000000003" stroke="#3a3a3a" stroke-width="0.6"/>
<path d="M19.5,174.50 h1.7050000000000003" stroke="#3a3a3a" stroke-width="0.6"/>
<path d="M19.50,308.0 v-3.1" stroke="#3a3a3a" stroke-width="0.9"/>
<g transform="translate(19.50 315.20) scale(0.1)"><text x="0" y="0" font-size="61.00" text-anchor="middle" font-weight="normal" fill="#222" stroke="#222" stroke-width="1.50">1.1</text></g>
<path d="M67.97,308.0 v-3.1" stroke="#3a3a3a" stroke-width="0.9"/>
<g transform="translate(67.97 315.20) scale(0.1)"><text x="0" y="0" font-size="61.00" text-anchor="middle" font-weight="normal" fill="#222" stroke="#222" stroke-width="1.50">1.15</text></g>
<path d="M116.43,308.0 v-3.1" stroke="#3a3a3a" stroke-width="0.9"/>
<g transform="translate(116.43 315.20) scale(0.1)"><text x="0" y="0" font-size="61.00" text-anchor="middle" font-weight="normal" fill="#222" stroke="#222" stroke-width="1.50">1.2</text></g>
<path d="M164.90,308.0 v-3.1" stroke="#3a3a3a" stroke-width="0.9"/>
<g transform="translate(164.90 315.20) scale(0.1)"><text x="0" y="0" font-size="61.00" text-anchor="middle" font-weight="normal" fill="#222" stroke="#222" stroke-width="1.50">1.25</text></g>
<path d="M19.50,308.0 v-1.7050000000000003" stroke="#3a3a3a" stroke-width="0.6"/>
<path d="M29.19,308.0 v-1.7050000000000003" stroke="#3a3a3a" stroke-width="0.6"/>
<path d="M38.89,308.0 v-1.7050000000000003" stroke="#3a3a3a" stroke-width="0.6"/>
<path d="M48.58,308.0 v-1.7050000000000003" stroke="#3a3a3a" stroke-width="0.6"/>
<path d="M58.27,308.0 v-1.7050000000000003" stroke="#3a3a3a" stroke-width="0.6"/>
<path d="M67.97,308.0 v-1.7050000000000003" stroke="#3a3a3a" stroke-width="0.6"/>
<path d="M77.66,308.0 v-1.7050000000000003" stroke="#3a3a3a" stroke-width="0.6"/>
<path d="M87.35,308.0 v-1.7050000000000003" stroke="#3a3a3a" stroke-width="0.6"/>
<path d="M97.05,308.0 v-1.7050000000000003" stroke="#3a3a3a" stroke-width="0.6"/>
<path d="M106.74,308.0 v-1.7050000000000003" stroke="#3a3a3a" stroke-width="0.6"/>
<path d="M116.43,308.0 v-1.7050000000000003" stroke="#3a3a3a" stroke-width="0.6"/>
<path d="M126.13,308.0 v-1.7050000000000003" stroke="#3a3a3a" stroke-width="0.6"/>
<path d="M135.82,308.0 v-1.7050000000000003" stroke="#3a3a3a" stroke-width="0.6"/>
<path d="M145.51,308.0 v-1.7050000000000003" stroke="#3a3a3a" stroke-width="0.6"/>
<path d="M155.21,308.0 v-1.7050000000000003" stroke="#3a3a3a" stroke-width="0.6"/>
<path d="M164.90,308.0 v-1.7050000000000003" stroke="#3a3a3a" stroke-width="0.6"/>
<g transform="translate(92.90 323.20) scale(0.1)"><text x="0" y="0" font-size="69.00" text-anchor="middle" font-weight="bold" fill="#111" stroke="#111" stroke-width="2.00">Total Temperature Ratio</text></g>
<g transform="translate(5.20 242.00) rotate(-90) scale(0.1)"><text x="0" y="0" font-size="71.00" text-anchor="middle" font-weight="bold" fill="#111" stroke="#111" stroke-width="2.00">Span</text></g>
<g transform="translate(0.00 171.30) scale(0.1)"><text x="0" y="0" font-size="70.00" text-anchor="start" font-weight="normal" fill="#222" stroke="#222" stroke-width="1.50">(c)</text></g>
<path d="M197.4,172.3 L197.4,308.4 L346.0,308.4" fill="none" stroke="#3a3a3a" stroke-width="1.0"/>
<path d="M197.4,307.60 h3.1" stroke="#3a3a3a" stroke-width="0.9"/>
<g transform="translate(195.90 309.90) scale(0.1)"><text x="0" y="0" font-size="64.00" text-anchor="end" font-weight="normal" fill="#222" stroke="#222" stroke-width="1.50">0</text></g>
<path d="M197.4,280.54 h3.1" stroke="#3a3a3a" stroke-width="0.9"/>
<g transform="translate(195.90 282.84) scale(0.1)"><text x="0" y="0" font-size="64.00" text-anchor="end" font-weight="normal" fill="#222" stroke="#222" stroke-width="1.50">0.2</text></g>
<path d="M197.4,253.48 h3.1" stroke="#3a3a3a" stroke-width="0.9"/>
<g transform="translate(195.90 255.78) scale(0.1)"><text x="0" y="0" font-size="64.00" text-anchor="end" font-weight="normal" fill="#222" stroke="#222" stroke-width="1.50">0.4</text></g>
<path d="M197.4,226.42 h3.1" stroke="#3a3a3a" stroke-width="0.9"/>
<g transform="translate(195.90 228.72) scale(0.1)"><text x="0" y="0" font-size="64.00" text-anchor="end" font-weight="normal" fill="#222" stroke="#222" stroke-width="1.50">0.6</text></g>
<path d="M197.4,199.36 h3.1" stroke="#3a3a3a" stroke-width="0.9"/>
<g transform="translate(195.90 201.66) scale(0.1)"><text x="0" y="0" font-size="64.00" text-anchor="end" font-weight="normal" fill="#222" stroke="#222" stroke-width="1.50">0.8</text></g>
<path d="M197.4,172.30 h3.1" stroke="#3a3a3a" stroke-width="0.9"/>
<g transform="translate(195.90 174.60) scale(0.1)"><text x="0" y="0" font-size="64.00" text-anchor="end" font-weight="normal" fill="#222" stroke="#222" stroke-width="1.50">1</text></g>
<path d="M197.4,307.60 h1.7050000000000003" stroke="#3a3a3a" stroke-width="0.6"/>
<path d="M197.4,300.84 h1.7050000000000003" stroke="#3a3a3a" stroke-width="0.6"/>
<path d="M197.4,294.07 h1.7050000000000003" stroke="#3a3a3a" stroke-width="0.6"/>
<path d="M197.4,287.31 h1.7050000000000003" stroke="#3a3a3a" stroke-width="0.6"/>
<path d="M197.4,280.54 h1.7050000000000003" stroke="#3a3a3a" stroke-width="0.6"/>
<path d="M197.4,273.78 h1.7050000000000003" stroke="#3a3a3a" stroke-width="0.6"/>
<path d="M197.4,267.01 h1.7050000000000003" stroke="#3a3a3a" stroke-width="0.6"/>
<path d="M197.4,260.25 h1.7050000000000003" stroke="#3a3a3a" stroke-width="0.6"/>
<path d="M197.4,253.48 h1.7050000000000003" stroke="#3a3a3a" stroke-width="0.6"/>
<path d="M197.4,246.72 h1.7050000000000003" stroke="#3a3a3a" stroke-width="0.6"/>
<path d="M197.4,239.95 h1.7050000000000003" stroke="#3a3a3a" stroke-width="0.6"/>
<path d="M197.4,233.19 h1.7050000000000003" stroke="#3a3a3a" stroke-width="0.6"/>
<path d="M197.4,226.42 h1.7050000000000003" stroke="#3a3a3a" stroke-width="0.6"/>
<path d="M197.4,219.66 h1.7050000000000003" stroke="#3a3a3a" stroke-width="0.6"/>
<path d="M197.4,212.89 h1.7050000000000003" stroke="#3a3a3a" stroke-width="0.6"/>
<path d="M197.4,206.12 h1.7050000000000003" stroke="#3a3a3a" stroke-width="0.6"/>
<path d="M197.4,199.36 h1.7050000000000003" stroke="#3a3a3a" stroke-width="0.6"/>
<path d="M197.4,192.59 h1.7050000000000003" stroke="#3a3a3a" stroke-width="0.6"/>
<path d="M197.4,185.83 h1.7050000000000003" stroke="#3a3a3a" stroke-width="0.6"/>
<path d="M197.4,179.06 h1.7050000000000003" stroke="#3a3a3a" stroke-width="0.6"/>
<path d="M197.4,172.30 h1.7050000000000003" stroke="#3a3a3a" stroke-width="0.6"/>
<path d="M197.40,308.4 v-3.1" stroke="#3a3a3a" stroke-width="0.9"/>
<g transform="translate(197.40 315.00) scale(0.1)"><text x="0" y="0" font-size="64.00" text-anchor="middle" font-weight="normal" fill="#222" stroke="#222" stroke-width="1.50">30</text></g>
<path d="M246.93,308.4 v-3.1" stroke="#3a3a3a" stroke-width="0.9"/>
<g transform="translate(246.93 315.00) scale(0.1)"><text x="0" y="0" font-size="64.00" text-anchor="middle" font-weight="normal" fill="#222" stroke="#222" stroke-width="1.50">40</text></g>
<path d="M296.47,308.4 v-3.1" stroke="#3a3a3a" stroke-width="0.9"/>
<g transform="translate(296.47 315.00) scale(0.1)"><text x="0" y="0" font-size="64.00" text-anchor="middle" font-weight="normal" fill="#222" stroke="#222" stroke-width="1.50">50</text></g>
<path d="M346.00,308.4 v-3.1" stroke="#3a3a3a" stroke-width="0.9"/>
<g transform="translate(346.00 315.00) scale(0.1)"><text x="0" y="0" font-size="64.00" text-anchor="middle" font-weight="normal" fill="#222" stroke="#222" stroke-width="1.50">60</text></g>
<path d="M197.40,308.4 v-1.7050000000000003" stroke="#3a3a3a" stroke-width="0.6"/>
<path d="M207.31,308.4 v-1.7050000000000003" stroke="#3a3a3a" stroke-width="0.6"/>
<path d="M217.21,308.4 v-1.7050000000000003" stroke="#3a3a3a" stroke-width="0.6"/>
<path d="M227.12,308.4 v-1.7050000000000003" stroke="#3a3a3a" stroke-width="0.6"/>
<path d="M237.03,308.4 v-1.7050000000000003" stroke="#3a3a3a" stroke-width="0.6"/>
<path d="M246.93,308.4 v-1.7050000000000003" stroke="#3a3a3a" stroke-width="0.6"/>
<path d="M256.84,308.4 v-1.7050000000000003" stroke="#3a3a3a" stroke-width="0.6"/>
<path d="M266.75,308.4 v-1.7050000000000003" stroke="#3a3a3a" stroke-width="0.6"/>
<path d="M276.65,308.4 v-1.7050000000000003" stroke="#3a3a3a" stroke-width="0.6"/>
<path d="M286.56,308.4 v-1.7050000000000003" stroke="#3a3a3a" stroke-width="0.6"/>
<path d="M296.47,308.4 v-1.7050000000000003" stroke="#3a3a3a" stroke-width="0.6"/>
<path d="M306.37,308.4 v-1.7050000000000003" stroke="#3a3a3a" stroke-width="0.6"/>
<path d="M316.28,308.4 v-1.7050000000000003" stroke="#3a3a3a" stroke-width="0.6"/>
<path d="M326.19,308.4 v-1.7050000000000003" stroke="#3a3a3a" stroke-width="0.6"/>
<path d="M336.09,308.4 v-1.7050000000000003" stroke="#3a3a3a" stroke-width="0.6"/>
<path d="M346.00,308.4 v-1.7050000000000003" stroke="#3a3a3a" stroke-width="0.6"/>
<g transform="translate(271.40 322.70) scale(0.1)"><text x="0" y="0" font-size="70.00" text-anchor="middle" font-weight="bold" fill="#111" stroke="#111" stroke-width="2.00">Outlet Absolute Angle (deg)</text></g>
<g transform="translate(183.50 240.40) rotate(-90) scale(0.1)"><text x="0" y="0" font-size="70.00" text-anchor="middle" font-weight="bold" fill="#111" stroke="#111" stroke-width="2.00">Span</text></g>
<g transform="translate(176.80 171.50) scale(0.1)"><text x="0" y="0" font-size="72.00" text-anchor="start" font-weight="normal" fill="#222" stroke="#222" stroke-width="1.50">(d)</text></g>
<rect x="47.10" y="88.20" width="3.00" height="3.00" fill="#000"/>
<g transform="translate(63.20 91.58) scale(0.1)"><text x="0" y="0" font-size="52.20" text-anchor="start" font-weight="bold" fill="#111" stroke="#111" stroke-width="0.00">Experiment</text></g>
<path d="M37.3,95.50 H60.1" stroke="#7070ff" stroke-width="1.0"/>
<path d="M48.60,93.42L50.40,96.84L46.80,96.84Z" fill="none" stroke="#7070ff" stroke-width="0.75"/>
<g transform="translate(63.20 97.28) scale(0.1)"><text x="0" y="0" font-size="52.20" text-anchor="start" font-weight="bold" fill="#111" stroke="#111" stroke-width="0.00">CFD(290,000 cells)</text></g>
<path d="M37.3,101.50 H60.1" stroke="#30cc30" stroke-width="1.0"/>
<path d="M48.60,103.48L50.40,100.06L46.80,100.06Z" fill="none" stroke="#30cc30" stroke-width="0.75"/>
<g transform="translate(63.20 103.38) scale(0.1)"><text x="0" y="0" font-size="52.20" text-anchor="start" font-weight="bold" fill="#111" stroke="#111" stroke-width="0.00">CFD(390,000 cells)</text></g>
<path d="M37.3,107.50 H60.1" stroke="#ee5050" stroke-width="1.0"/>
<rect x="47.07" y="106.07" width="3.07" height="3.07" fill="none" stroke="#ee5050" stroke-width="0.75"/>
<g transform="translate(63.20 109.48) scale(0.1)"><text x="0" y="0" font-size="52.20" text-anchor="start" font-weight="bold" fill="#111" stroke="#111" stroke-width="0.00">CFD(500,000 cells)</text></g>
<path d="M37.3,113.50 H60.1" stroke="#a050ff" stroke-width="1.0"/>
<path d="M48.60,111.63L50.40,113.70L48.60,115.77L46.80,113.70Z" fill="none" stroke="#a050ff" stroke-width="0.75"/>
<g transform="translate(63.20 115.58) scale(0.1)"><text x="0" y="0" font-size="52.20" text-anchor="start" font-weight="bold" fill="#111" stroke="#111" stroke-width="0.00">CFD(610,000 cells)</text></g>
<path d="M37.3,119.50 H60.1" stroke="#ff9a50" stroke-width="1.0"/>
<circle cx="48.60" cy="119.50" r="1.80" fill="none" stroke="#ff9a50" stroke-width="0.75"/>
<g transform="translate(63.20 121.38) scale(0.1)"><text x="0" y="0" font-size="52.20" text-anchor="start" font-weight="bold" fill="#111" stroke="#111" stroke-width="0.00">CFD(750,000 cells)</text></g>
<rect x="211.90" y="59.60" width="3.40" height="3.40" fill="#000"/>
<g transform="translate(229.40 63.26) scale(0.1)"><text x="0" y="0" font-size="54.40" text-anchor="start" font-weight="bold" fill="#111" stroke="#111" stroke-width="0.00">Experiment</text></g>
<path d="M201.3,67.50 H225.7" stroke="#7070ff" stroke-width="1.0"/>
<path d="M213.60,65.39L215.61,69.21L211.59,69.21Z" fill="none" stroke="#7070ff" stroke-width="0.75"/>
<g transform="translate(229.40 69.56) scale(0.1)"><text x="0" y="0" font-size="54.40" text-anchor="start" font-weight="bold" fill="#111" stroke="#111" stroke-width="0.00">CFD(290,000 cells)</text></g>
<path d="M201.3,74.50 H225.7" stroke="#30cc30" stroke-width="1.0"/>
<path d="M213.60,76.31L215.61,72.49L211.59,72.49Z" fill="none" stroke="#30cc30" stroke-width="0.75"/>
<g transform="translate(229.40 76.06) scale(0.1)"><text x="0" y="0" font-size="54.40" text-anchor="start" font-weight="bold" fill="#111" stroke="#111" stroke-width="0.00">CFD(390,000 cells)</text></g>
<path d="M201.3,80.50 H225.7" stroke="#ee5050" stroke-width="1.0"/>
<rect x="211.89" y="78.99" width="3.42" height="3.42" fill="none" stroke="#ee5050" stroke-width="0.75"/>
<g transform="translate(229.40 82.66) scale(0.1)"><text x="0" y="0" font-size="54.40" text-anchor="start" font-weight="bold" fill="#111" stroke="#111" stroke-width="0.00">CFD(500,000 cells)</text></g>
<path d="M201.3,87.50 H225.7" stroke="#a050ff" stroke-width="1.0"/>
<path d="M213.60,84.79L215.61,87.10L213.60,89.41L211.59,87.10Z" fill="none" stroke="#a050ff" stroke-width="0.75"/>
<g transform="translate(229.40 89.06) scale(0.1)"><text x="0" y="0" font-size="54.40" text-anchor="start" font-weight="bold" fill="#111" stroke="#111" stroke-width="0.00">CFD(610,000 cells)</text></g>
<path d="M201.3,93.50 H225.7" stroke="#ff9a50" stroke-width="1.0"/>
<circle cx="213.60" cy="93.50" r="2.01" fill="none" stroke="#ff9a50" stroke-width="0.75"/>
<g transform="translate(229.40 95.46) scale(0.1)"><text x="0" y="0" font-size="54.40" text-anchor="start" font-weight="bold" fill="#111" stroke="#111" stroke-width="0.00">CFD(750,000 cells)</text></g>
<rect x="100.05" y="226.75" width="3.30" height="3.30" fill="#000"/>
<g transform="translate(117.70 230.25) scale(0.1)"><text x="0" y="0" font-size="51.50" text-anchor="start" font-weight="bold" fill="#111" stroke="#111" stroke-width="0.00">Experiment</text></g>
<path d="M89.6,234.50 H113.7" stroke="#7070ff" stroke-width="1.0"/>
<path d="M101.70,232.18L103.63,235.84L99.77,235.84Z" fill="none" stroke="#7070ff" stroke-width="0.75"/>
<g transform="translate(117.70 236.15) scale(0.1)"><text x="0" y="0" font-size="51.50" text-anchor="start" font-weight="bold" fill="#111" stroke="#111" stroke-width="0.00">CFD(290,000 cells)</text></g>
<path d="M89.6,240.50 H113.7" stroke="#30cc30" stroke-width="1.0"/>
<path d="M101.70,242.52L103.63,238.86L99.77,238.86Z" fill="none" stroke="#30cc30" stroke-width="0.75"/>
<g transform="translate(117.70 242.25) scale(0.1)"><text x="0" y="0" font-size="51.50" text-anchor="start" font-weight="bold" fill="#111" stroke="#111" stroke-width="0.00">CFD(390,000 cells)</text></g>
<path d="M89.6,246.50 H113.7" stroke="#ee5050" stroke-width="1.0"/>
<rect x="100.06" y="244.86" width="3.28" height="3.28" fill="none" stroke="#ee5050" stroke-width="0.75"/>
<g transform="translate(117.70 248.35) scale(0.1)"><text x="0" y="0" font-size="51.50" text-anchor="start" font-weight="bold" fill="#111" stroke="#111" stroke-width="0.00">CFD(500,000 cells)</text></g>
<path d="M89.6,253.50 H113.7" stroke="#a050ff" stroke-width="1.0"/>
<path d="M101.70,250.78L103.63,253.00L101.70,255.22L99.77,253.00Z" fill="none" stroke="#a050ff" stroke-width="0.75"/>
<g transform="translate(117.70 254.85) scale(0.1)"><text x="0" y="0" font-size="51.50" text-anchor="start" font-weight="bold" fill="#111" stroke="#111" stroke-width="0.00">CFD(610,000 cells)</text></g>
<path d="M89.6,259.50 H113.7" stroke="#ff9a50" stroke-width="1.0"/>
<circle cx="101.70" cy="259.10" r="1.93" fill="none" stroke="#ff9a50" stroke-width="0.75"/>
<g transform="translate(117.70 260.95) scale(0.1)"><text x="0" y="0" font-size="51.50" text-anchor="start" font-weight="bold" fill="#111" stroke="#111" stroke-width="0.00">CFD(750,000 cells)</text></g>
<rect x="280.95" y="224.95" width="3.30" height="3.30" fill="#000"/>
<g transform="translate(298.40 228.53) scale(0.1)"><text x="0" y="0" font-size="53.70" text-anchor="start" font-weight="bold" fill="#111" stroke="#111" stroke-width="0.00">Experiment</text></g>
<path d="M271.0,232.50 H294.4" stroke="#7070ff" stroke-width="1.0"/>
<path d="M282.60,230.29L284.61,234.11L280.59,234.11Z" fill="none" stroke="#7070ff" stroke-width="0.75"/>
<g transform="translate(298.40 234.43) scale(0.1)"><text x="0" y="0" font-size="53.70" text-anchor="start" font-weight="bold" fill="#111" stroke="#111" stroke-width="0.00">CFD(290,000 cells)</text></g>
<path d="M271.0,238.50 H294.4" stroke="#30cc30" stroke-width="1.0"/>
<path d="M282.60,241.11L284.61,237.29L280.59,237.29Z" fill="none" stroke="#30cc30" stroke-width="0.75"/>
<g transform="translate(298.40 240.83) scale(0.1)"><text x="0" y="0" font-size="53.70" text-anchor="start" font-weight="bold" fill="#111" stroke="#111" stroke-width="0.00">CFD(390,000 cells)</text></g>
<path d="M271.0,245.50 H294.4" stroke="#ee5050" stroke-width="1.0"/>
<rect x="280.89" y="243.39" width="3.42" height="3.42" fill="none" stroke="#ee5050" stroke-width="0.75"/>
<g transform="translate(298.40 247.03) scale(0.1)"><text x="0" y="0" font-size="53.70" text-anchor="start" font-weight="bold" fill="#111" stroke="#111" stroke-width="0.00">CFD(500,000 cells)</text></g>
<path d="M271.0,251.50 H294.4" stroke="#a050ff" stroke-width="1.0"/>
<path d="M282.60,249.19L284.61,251.50L282.60,253.81L280.59,251.50Z" fill="none" stroke="#a050ff" stroke-width="0.75"/>
<g transform="translate(298.40 253.43) scale(0.1)"><text x="0" y="0" font-size="53.70" text-anchor="start" font-weight="bold" fill="#111" stroke="#111" stroke-width="0.00">CFD(610,000 cells)</text></g>
<path d="M271.0,258.50 H294.4" stroke="#ff9a50" stroke-width="1.0"/>
<circle cx="282.60" cy="258.00" r="2.01" fill="none" stroke="#ff9a50" stroke-width="0.75"/>
<g transform="translate(298.40 259.93) scale(0.1)"><text x="0" y="0" font-size="53.70" text-anchor="start" font-weight="bold" fill="#111" stroke="#111" stroke-width="0.00">CFD(750,000 cells)</text></g>
</g>
</svg>
</body></html>
